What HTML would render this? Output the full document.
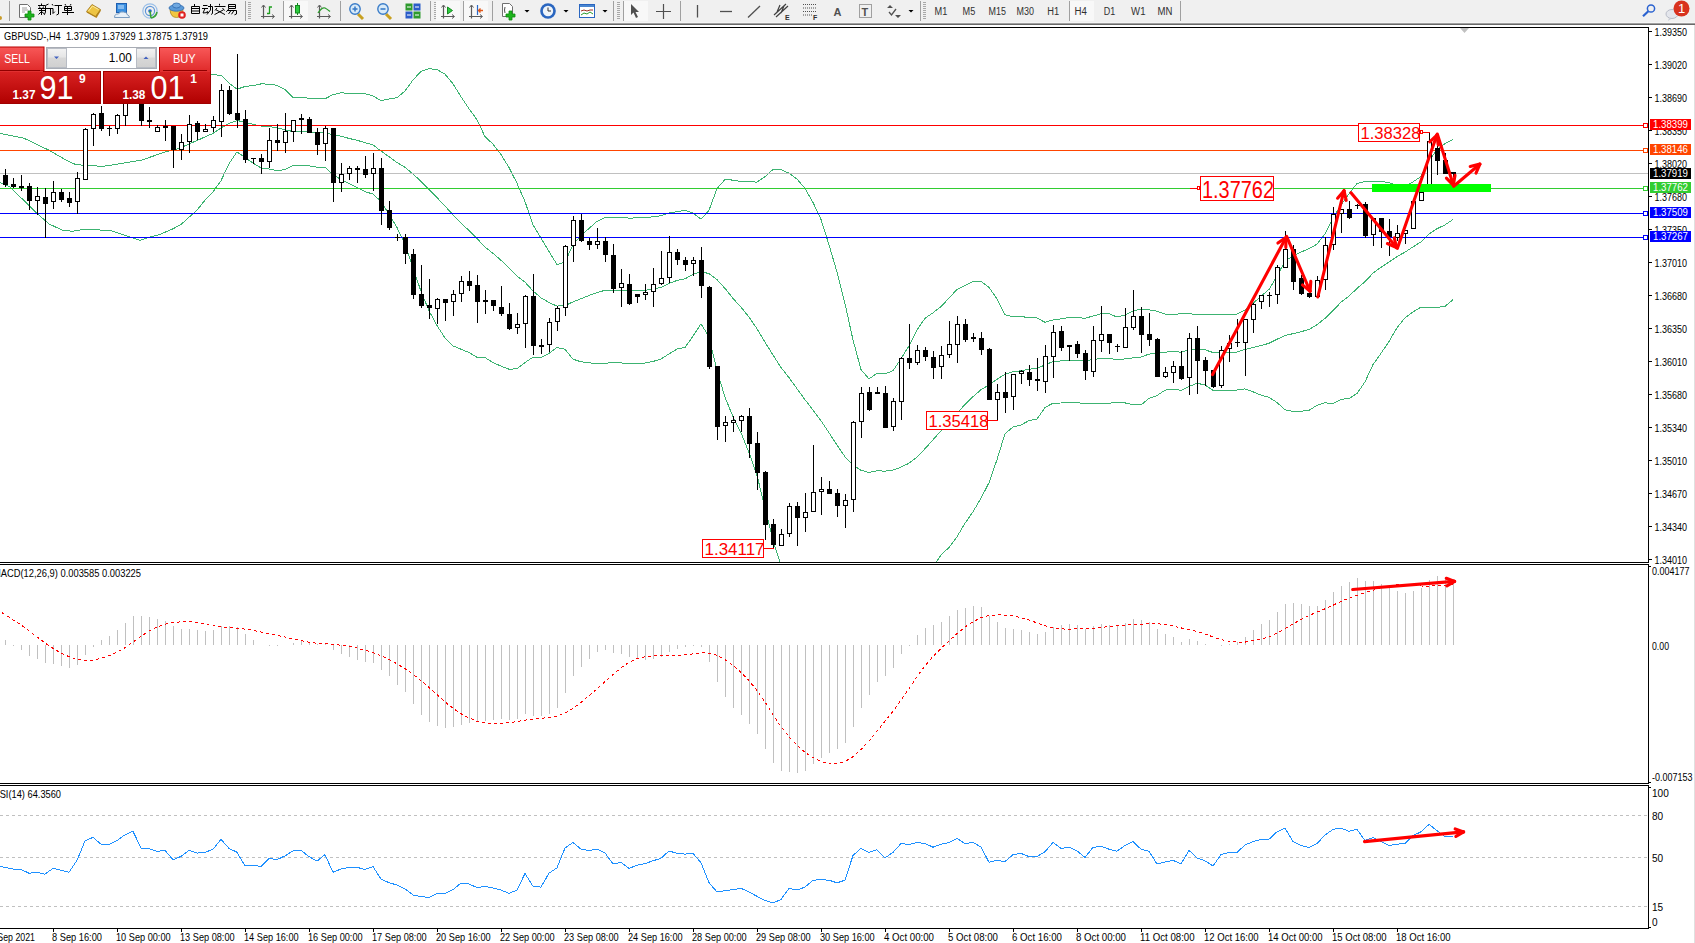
<!DOCTYPE html><html><head><meta charset="utf-8"><style>html,body{margin:0;padding:0;background:#fff;width:1695px;height:943px;overflow:hidden}svg text{font-family:"Liberation Sans",sans-serif}</style></head><body><svg width="1695" height="943" viewBox="0 0 1695 943" style="display:block"><defs><clipPath id="mainclip"><rect x="0" y="28" width="1648" height="534"/></clipPath><clipPath id="macdclip"><rect x="0" y="565" width="1648" height="218"/></clipPath></defs><rect x="0" y="0" width="1695" height="943" fill="#fff"/><rect x="0" y="0" width="1695" height="22" fill="#F0F0F0"/><rect x="0" y="22" width="1695" height="1" fill="#F6F6F6"/><rect x="0" y="23" width="1695" height="1" fill="#A0A0A0"/><rect x="0" y="24" width="1695" height="1" fill="#696969"/><rect x="0" y="25" width="1695" height="2" fill="#FFFFFF"/><circle cx="0" cy="18" r="2" fill="#C89B2A"/><rect x="9" y="1" width="1" height="20" fill="#A0A0A0"/><path d="M19.5 4.5h8l3 3v10h-11z" fill="#fff" stroke="#707070"/><path d="M22 8h5M22 10h6M22 12h3" stroke="#A0A0A0"/><path d="M28 11h3v3h3v3h-3v3h-3v-3h-3v-3h3z" fill="#1DB41D" stroke="#0D8A0D" stroke-width="0.8"/><path d="M41.5 3.5v1.5 M38 5.5h7 M39.5 6.5l0.5 1.5 M43.5 6.5l-0.5 1.5 M38 8.5h7 M39 10.5h6 M41.5 8.5v6.5 M41.5 11.5l-3 3 M41.5 11.5l3 2.5 M48.5 4l-3 1.5 M45.5 5.5v6.5l-1.2 2.8 M45.5 8.5h6.5 M50.5 8.5v6.5 M52 4l1 1.5 M51 8.5h2v5l1.8-1.8 M54.5 5.5h7.5 M58.5 5.5v8.5l-2 1 M65 4l0.8 1.5 M71 4l-0.8 1.5 M64.5 6.5h7v4h-7z M64.5 8.5h7 M67.5 6.5v8.5 M62 12.5h12" stroke="#000" stroke-width="1" fill="none"/><path d="M86.5 12.5 L92 5 L101 10.5 L96.5 18 Z" fill="#B8861A"/><path d="M86.5 11.5 L92 4.5 L100.5 9.5 L95.5 16.5 Z" fill="#EDC443" stroke="#A07418" stroke-width="0.8"/><path d="M88.5 11 L92.5 6 L98.5 9.5" fill="none" stroke="#FBEAA0"/><rect x="116.5" y="3.5" width="10" height="9" fill="#3A8FE0" stroke="#1F5FB0"/><path d="M118 6h6M118 8h6" stroke="#CFE6FF"/><path d="M114.5 17.5 q0-4 4-3.5 q1.5-3 5-2 q3.5 0 4 3 q2 0.5 2 2.5z" fill="#E8F0F8" stroke="#7A9CC0"/><circle cx="150" cy="11" r="7.2" fill="none" stroke="#9CC0E8" stroke-width="1.2"/><circle cx="150" cy="11" r="4.6" fill="none" stroke="#5E96D8" stroke-width="1.2"/><circle cx="150" cy="11" r="1.8" fill="#2A6AC8"/><path d="M150 11 L151 18 M157 12 q-1 5 -6 6" fill="none" stroke="#3AA33A" stroke-width="1.6"/><path d="M170 9.5 q0.5 8 6.5 8 q6 0 6.5 -8z" fill="#F2C640" stroke="#B08A1A" stroke-width="0.8"/><ellipse cx="176.5" cy="8" rx="7.5" ry="3.2" fill="#5A9AD8" stroke="#2F6AAE" stroke-width="0.8"/><ellipse cx="176.5" cy="5.5" rx="4" ry="2.5" fill="#6FA8E0" stroke="#2F6AAE" stroke-width="0.8"/><circle cx="182" cy="15" r="3.8" fill="#E02020"/><rect x="180.5" y="13.5" width="3" height="3" fill="#fff"/><path d="M194.5 4v2 M191.5 6.5h8v7h-8z M191.5 8.5h8 M191.5 11h8 M203 5.5h4.5 M202 8.5h6 M205 8.5l-2 4.5 4.5-0.5 M207 11l1 2 M208 6.5h4.5v7l-1.5 1 M210.5 4v6l-3.5 4.5 M219.5 3.8v1.7 M214.5 6.5h11 M217 8l-2 2.5 M222.5 8l2 2.5 M216 9.8l9 4.8 M223.5 9.8l-9 4.8 M228.5 4.5h7v4h-7z M228.5 6.5h7 M228.8 9l-2.5 2.8 M227 10.5h9.5v3.5l-2 0.8 M231 10.5l-2.5 3.5 M234 10.5l-2.5 3.8" stroke="#000" stroke-width="1" fill="none"/><rect x="245" y="1" width="1" height="20" fill="#A0A0A0"/><rect x="248" y="2" width="3" height="1" fill="#A8A8A8"/><rect x="248" y="4" width="3" height="1" fill="#A8A8A8"/><rect x="248" y="6" width="3" height="1" fill="#A8A8A8"/><rect x="248" y="8" width="3" height="1" fill="#A8A8A8"/><rect x="248" y="10" width="3" height="1" fill="#A8A8A8"/><rect x="248" y="12" width="3" height="1" fill="#A8A8A8"/><rect x="248" y="14" width="3" height="1" fill="#A8A8A8"/><rect x="248" y="16" width="3" height="1" fill="#A8A8A8"/><rect x="248" y="18" width="3" height="1" fill="#A8A8A8"/><path d="M263.5 5.5v13M261 16.5h13" stroke="#5A5A5A" stroke-width="1.2" fill="none"/><path d="M261.5 7.5l2-2.5 2 2.5M272 14.5l2.5 2-2.5 2" stroke="#5A5A5A" fill="none"/><path d="M269.5 14v-7h2.5M267 13.5h2.5" stroke="#1E9E1E" stroke-width="1.3" fill="none"/><rect x="283" y="1" width="1" height="20" fill="#A0A0A0"/><rect x="284" y="1" width="24" height="20" fill="#F8F8F8"/><path d="M291.5 5.5v13M289 16.5h13" stroke="#5A5A5A" stroke-width="1.2" fill="none"/><path d="M289.5 7.5l2-2.5 2 2.5M300 14.5l2.5 2-2.5 2" stroke="#5A5A5A" fill="none"/><rect x="295.5" y="5.5" width="4" height="7.5" fill="#2ECC40" stroke="#158A20"/><path d="M297.5 3v2.5M297.5 13v2" stroke="#158A20"/><path d="M319.5 5.5v13M317 16.5h13" stroke="#5A5A5A" stroke-width="1.2" fill="none"/><path d="M317.5 7.5l2-2.5 2 2.5M328 14.5l2.5 2-2.5 2" stroke="#5A5A5A" fill="none"/><path d="M318 13 q4 -6 7 -5 q2 1 5 3.5" stroke="#2A9A2A" stroke-width="1.3" fill="none"/><rect x="340" y="1" width="1" height="20" fill="#A0A0A0"/><path d="M358 14 l5 5" stroke="#C8A020" stroke-width="3"/><circle cx="355" cy="9" r="5.2" fill="#D8EAF8" stroke="#3A7CC8" stroke-width="1.4"/><path d="M352.5 9h5" stroke="#3A7CC8" stroke-width="1.6"/><path d="M355 6.5v5" stroke="#3A7CC8" stroke-width="1.6"/><path d="M386 14 l5 5" stroke="#C8A020" stroke-width="3"/><circle cx="383" cy="9" r="5.2" fill="#D8EAF8" stroke="#3A7CC8" stroke-width="1.4"/><path d="M380.5 9h5" stroke="#3A7CC8" stroke-width="1.6"/><rect x="405.5" y="3.5" width="7" height="7" fill="#2E9A2E"/><rect x="413.5" y="3.5" width="7" height="7" fill="#2A5CC8"/><rect x="405.5" y="11.5" width="7" height="7" fill="#2A5CC8"/><rect x="413.5" y="11.5" width="7" height="7" fill="#2E9A2E"/><path d="M407 7h4M415 7h4M407 15h4M415 15h4" stroke="#fff"/><rect x="430" y="1" width="1" height="20" fill="#A0A0A0"/><rect x="434" y="2" width="3" height="1" fill="#A8A8A8"/><rect x="434" y="4" width="3" height="1" fill="#A8A8A8"/><rect x="434" y="6" width="3" height="1" fill="#A8A8A8"/><rect x="434" y="8" width="3" height="1" fill="#A8A8A8"/><rect x="434" y="10" width="3" height="1" fill="#A8A8A8"/><rect x="434" y="12" width="3" height="1" fill="#A8A8A8"/><rect x="434" y="14" width="3" height="1" fill="#A8A8A8"/><rect x="434" y="16" width="3" height="1" fill="#A8A8A8"/><rect x="434" y="18" width="3" height="1" fill="#A8A8A8"/><rect x="436" y="1" width="24" height="20" fill="#F8F8F8"/><path d="M443.5 5.5v13M441 16.5h13" stroke="#5A5A5A" stroke-width="1.2" fill="none"/><path d="M441.5 7.5l2-2.5 2 2.5M452 14.5l2.5 2-2.5 2" stroke="#5A5A5A" fill="none"/><path d="M447.5 7l5 3.5-5 3.5z" fill="#2ECC40" stroke="#158A20"/><rect x="463" y="1" width="1" height="20" fill="#A0A0A0"/><rect x="464" y="1" width="24" height="20" fill="#F8F8F8"/><path d="M471.5 5.5v13M469 16.5h13" stroke="#5A5A5A" stroke-width="1.2" fill="none"/><path d="M469.5 7.5l2-2.5 2 2.5M480 14.5l2.5 2-2.5 2" stroke="#5A5A5A" fill="none"/><path d="M477.5 5v10" stroke="#2A6AC8" stroke-width="1.2"/><path d="M483 10.5h-4M480.5 8.5l-2 2 2 2" stroke="#E0581A" stroke-width="1.4" fill="none"/><rect x="492" y="1" width="1" height="20" fill="#A0A0A0"/><path d="M502.5 3.5h7l3 3v10h-10z" fill="#fff" stroke="#707070"/><path d="M505 7q-1 3 0 6" stroke="#505050" fill="none"/><path d="M509 11h3v3h3v3h-3v3h-3v-3h-3v-3h3z" fill="#1DB41D" stroke="#0D8A0D" stroke-width="0.8"/><path d="M524.5 10h5l-2.5 2.5z" fill="#000"/><circle cx="548" cy="11" r="7.8" fill="#2A66C0"/><circle cx="548" cy="11" r="5.2" fill="#EEF4FA"/><path d="M548 7.5v3.5h3" stroke="#333" fill="none"/><path d="M563.5 10h5l-2.5 2.5z" fill="#000"/><rect x="579.5" y="4.5" width="15" height="13" fill="#fff" stroke="#2A66C0"/><rect x="580" y="5" width="14" height="2" fill="#4A86D0"/><path d="M581 11l3-1 3 1 3-1 3 0" stroke="#A03020" fill="none"/><path d="M581 15l3-2 3 1 3-2 3 2" stroke="#2A9A2A" fill="none"/><path d="M602.5 10h5l-2.5 2.5z" fill="#000"/><rect x="613" y="1" width="1" height="20" fill="#A0A0A0"/><rect x="617" y="2" width="3" height="1" fill="#A8A8A8"/><rect x="617" y="4" width="3" height="1" fill="#A8A8A8"/><rect x="617" y="6" width="3" height="1" fill="#A8A8A8"/><rect x="617" y="8" width="3" height="1" fill="#A8A8A8"/><rect x="617" y="10" width="3" height="1" fill="#A8A8A8"/><rect x="617" y="12" width="3" height="1" fill="#A8A8A8"/><rect x="617" y="14" width="3" height="1" fill="#A8A8A8"/><rect x="617" y="16" width="3" height="1" fill="#A8A8A8"/><rect x="617" y="18" width="3" height="1" fill="#A8A8A8"/><rect x="623" y="1" width="1" height="20" fill="#A0A0A0"/><rect x="624" y="1" width="24" height="20" fill="#F8F8F8"/><path d="M631 4 L631 15 L633.5 12.5 L636 18 L638 17 L635.5 12 L639 12 Z" fill="#505050"/><path d="M663.5 4v15M656 11.5h15" stroke="#505050" stroke-width="1.2"/><rect x="680" y="1" width="1" height="20" fill="#A0A0A0"/><path d="M697.5 5v12.5" stroke="#505050" stroke-width="1.3"/><path d="M720 11.5h12" stroke="#505050" stroke-width="1.3"/><path d="M748 17.5L760 6" stroke="#505050" stroke-width="1.3"/><path d="M774 15 L786 4 M776 17 L788 6 M777 12 l3 -7 M781 13 l3 -7" stroke="#404040" stroke-width="1.2" fill="none"/><text x="785" y="20" font-size="7" fill="#303030" text-anchor="start" font-weight="bold" font-family='"Liberation Sans", sans-serif' >E</text><path d="M803 4.5h14M803 8h14M803 11.5h14M803 15h10" stroke="#505050" stroke-dasharray="1,1" fill="none"/><text x="813" y="20" font-size="7" fill="#303030" text-anchor="start" font-weight="bold" font-family='"Liberation Sans", sans-serif' >F</text><text x="833.5" y="16" font-size="11" fill="#505050" text-anchor="start" font-weight="bold" font-family='"Liberation Sans", sans-serif' >A</text><rect x="859.5" y="4.5" width="12" height="13" fill="none" stroke="#505050" stroke-dasharray="1,1"/><text x="861.5" y="15.5" font-size="11" fill="#505050" text-anchor="start" font-weight="bold" font-family='"Liberation Sans", sans-serif' >T</text><path d="M887 8l3-3 3 3z M895 15l3 3 3-3z" fill="#505050"/><path d="M889 12l2.5 3 4.5-6" stroke="#505050" stroke-width="1.3" fill="none"/><path d="M908.5 10h5l-2.5 2.5z" fill="#000"/><rect x="920" y="1" width="1" height="20" fill="#A0A0A0"/><rect x="923" y="2" width="3" height="1" fill="#A8A8A8"/><rect x="923" y="4" width="3" height="1" fill="#A8A8A8"/><rect x="923" y="6" width="3" height="1" fill="#A8A8A8"/><rect x="923" y="8" width="3" height="1" fill="#A8A8A8"/><rect x="923" y="10" width="3" height="1" fill="#A8A8A8"/><rect x="923" y="12" width="3" height="1" fill="#A8A8A8"/><rect x="923" y="14" width="3" height="1" fill="#A8A8A8"/><rect x="923" y="16" width="3" height="1" fill="#A8A8A8"/><rect x="923" y="18" width="3" height="1" fill="#A8A8A8"/><rect x="1070" y="1" width="24" height="20" fill="#F8F8F8"/><rect x="1069" y="1" width="1" height="20" fill="#A0A0A0"/><text x="934.5" y="15" font-size="10" fill="#303030" text-anchor="start" font-weight="normal" font-family='"Liberation Sans", sans-serif' textLength="12.8" lengthAdjust="spacingAndGlyphs" >M1</text><text x="962.6" y="15" font-size="10" fill="#303030" text-anchor="start" font-weight="normal" font-family='"Liberation Sans", sans-serif' textLength="12.7" lengthAdjust="spacingAndGlyphs" >M5</text><text x="988.5" y="15" font-size="10" fill="#303030" text-anchor="start" font-weight="normal" font-family='"Liberation Sans", sans-serif' textLength="17.4" lengthAdjust="spacingAndGlyphs" >M15</text><text x="1016.6" y="15" font-size="10" fill="#303030" text-anchor="start" font-weight="normal" font-family='"Liberation Sans", sans-serif' textLength="17.4" lengthAdjust="spacingAndGlyphs" >M30</text><text x="1047.2" y="15" font-size="10" fill="#303030" text-anchor="start" font-weight="normal" font-family='"Liberation Sans", sans-serif' textLength="11.9" lengthAdjust="spacingAndGlyphs" >H1</text><text x="1074.4" y="15" font-size="10" fill="#303030" text-anchor="start" font-weight="normal" font-family='"Liberation Sans", sans-serif' textLength="12.4" lengthAdjust="spacingAndGlyphs" >H4</text><text x="1103.7" y="15" font-size="10" fill="#303030" text-anchor="start" font-weight="normal" font-family='"Liberation Sans", sans-serif' textLength="11.5" lengthAdjust="spacingAndGlyphs" >D1</text><text x="1131.1" y="15" font-size="10" fill="#303030" text-anchor="start" font-weight="normal" font-family='"Liberation Sans", sans-serif' textLength="14.4" lengthAdjust="spacingAndGlyphs" >W1</text><text x="1157.5" y="15" font-size="10" fill="#303030" text-anchor="start" font-weight="normal" font-family='"Liberation Sans", sans-serif' textLength="14.9" lengthAdjust="spacingAndGlyphs" >MN</text><rect x="1180" y="1" width="1" height="20" fill="#A0A0A0"/><circle cx="1651" cy="8.5" r="3.6" fill="none" stroke="#2A62D0" stroke-width="1.5"/><path d="M1648.3 11.2 L1643 16.2" stroke="#2A62D0" stroke-width="2.2"/><ellipse cx="1672" cy="14" rx="6" ry="4.5" fill="#E4E6EC" stroke="#B8BCC8"/><path d="M1669 18 l-1 3 3-2z" fill="#C8CCD6"/><circle cx="1681.5" cy="8.5" r="8" fill="#D8321E"/><text x="1681.5" y="13" font-size="13" fill="#fff" text-anchor="middle" font-weight="normal" font-family='"Liberation Sans", sans-serif' >1</text><rect x="0" y="27" width="1649" height="1" fill="#000"/><rect x="0" y="562" width="1649" height="1" fill="#000"/><rect x="1648" y="27" width="1" height="536" fill="#000"/><rect x="0" y="564" width="1649" height="1" fill="#000"/><rect x="0" y="783" width="1649" height="1" fill="#000"/><rect x="1648" y="564" width="1" height="220" fill="#000"/><rect x="0" y="785" width="1649" height="1" fill="#000"/><rect x="0" y="928" width="1649" height="1" fill="#000"/><rect x="1648" y="785" width="1" height="144" fill="#000"/><rect x="1694" y="25" width="1" height="918" fill="#E0E0E0"/><rect x="1649" y="31" width="3" height="1" fill="#000"/><text x="1654.5" y="35.5" font-size="11" fill="#000" text-anchor="start" font-weight="normal" font-family='"Liberation Sans", sans-serif' textLength="32.5" lengthAdjust="spacingAndGlyphs" >1.39350</text><rect x="1649" y="64" width="3" height="1" fill="#000"/><text x="1654.5" y="68.5" font-size="11" fill="#000" text-anchor="start" font-weight="normal" font-family='"Liberation Sans", sans-serif' textLength="32.5" lengthAdjust="spacingAndGlyphs" >1.39020</text><rect x="1649" y="97" width="3" height="1" fill="#000"/><text x="1654.5" y="101.5" font-size="11" fill="#000" text-anchor="start" font-weight="normal" font-family='"Liberation Sans", sans-serif' textLength="32.5" lengthAdjust="spacingAndGlyphs" >1.38690</text><rect x="1649" y="130" width="3" height="1" fill="#000"/><text x="1654.5" y="134.5" font-size="11" fill="#000" text-anchor="start" font-weight="normal" font-family='"Liberation Sans", sans-serif' textLength="32.5" lengthAdjust="spacingAndGlyphs" >1.38350</text><rect x="1649" y="163" width="3" height="1" fill="#000"/><text x="1654.5" y="167.5" font-size="11" fill="#000" text-anchor="start" font-weight="normal" font-family='"Liberation Sans", sans-serif' textLength="32.5" lengthAdjust="spacingAndGlyphs" >1.38020</text><rect x="1649" y="196" width="3" height="1" fill="#000"/><text x="1654.5" y="200.5" font-size="11" fill="#000" text-anchor="start" font-weight="normal" font-family='"Liberation Sans", sans-serif' textLength="32.5" lengthAdjust="spacingAndGlyphs" >1.37680</text><rect x="1649" y="229" width="3" height="1" fill="#000"/><text x="1654.5" y="233.5" font-size="11" fill="#000" text-anchor="start" font-weight="normal" font-family='"Liberation Sans", sans-serif' textLength="32.5" lengthAdjust="spacingAndGlyphs" >1.37350</text><rect x="1649" y="262" width="3" height="1" fill="#000"/><text x="1654.5" y="266.5" font-size="11" fill="#000" text-anchor="start" font-weight="normal" font-family='"Liberation Sans", sans-serif' textLength="32.5" lengthAdjust="spacingAndGlyphs" >1.37010</text><rect x="1649" y="295" width="3" height="1" fill="#000"/><text x="1654.5" y="299.5" font-size="11" fill="#000" text-anchor="start" font-weight="normal" font-family='"Liberation Sans", sans-serif' textLength="32.5" lengthAdjust="spacingAndGlyphs" >1.36680</text><rect x="1649" y="328" width="3" height="1" fill="#000"/><text x="1654.5" y="332.5" font-size="11" fill="#000" text-anchor="start" font-weight="normal" font-family='"Liberation Sans", sans-serif' textLength="32.5" lengthAdjust="spacingAndGlyphs" >1.36350</text><rect x="1649" y="361" width="3" height="1" fill="#000"/><text x="1654.5" y="365.5" font-size="11" fill="#000" text-anchor="start" font-weight="normal" font-family='"Liberation Sans", sans-serif' textLength="32.5" lengthAdjust="spacingAndGlyphs" >1.36010</text><rect x="1649" y="394" width="3" height="1" fill="#000"/><text x="1654.5" y="398.5" font-size="11" fill="#000" text-anchor="start" font-weight="normal" font-family='"Liberation Sans", sans-serif' textLength="32.5" lengthAdjust="spacingAndGlyphs" >1.35680</text><rect x="1649" y="427" width="3" height="1" fill="#000"/><text x="1654.5" y="431.5" font-size="11" fill="#000" text-anchor="start" font-weight="normal" font-family='"Liberation Sans", sans-serif' textLength="32.5" lengthAdjust="spacingAndGlyphs" >1.35340</text><rect x="1649" y="460" width="3" height="1" fill="#000"/><text x="1654.5" y="464.5" font-size="11" fill="#000" text-anchor="start" font-weight="normal" font-family='"Liberation Sans", sans-serif' textLength="32.5" lengthAdjust="spacingAndGlyphs" >1.35010</text><rect x="1649" y="493" width="3" height="1" fill="#000"/><text x="1654.5" y="497.5" font-size="11" fill="#000" text-anchor="start" font-weight="normal" font-family='"Liberation Sans", sans-serif' textLength="32.5" lengthAdjust="spacingAndGlyphs" >1.34670</text><rect x="1649" y="526" width="3" height="1" fill="#000"/><text x="1654.5" y="530.5" font-size="11" fill="#000" text-anchor="start" font-weight="normal" font-family='"Liberation Sans", sans-serif' textLength="32.5" lengthAdjust="spacingAndGlyphs" >1.34340</text><rect x="1649" y="559" width="3" height="1" fill="#000"/><text x="1654.5" y="563.5" font-size="11" fill="#000" text-anchor="start" font-weight="normal" font-family='"Liberation Sans", sans-serif' textLength="32.5" lengthAdjust="spacingAndGlyphs" >1.34010</text><path d="M1460 28 L1469 28 L1464.5 33 Z" fill="#C0C0C0"/><text x="4" y="40" font-size="11" fill="#000" text-anchor="start" font-weight="normal" font-family='"Liberation Sans", sans-serif' textLength="204" lengthAdjust="spacingAndGlyphs" xml:space="preserve">GBPUSD-,H4  1.37909 1.37929 1.37875 1.37919</text><g clip-path="url(#mainclip)"><polyline points="157.0,74.1 165.0,71.6 173.0,71.4 181.0,71.0 189.0,70.5 197.0,71.2 205.0,73.6 213.0,74.9 221.0,75.1 229.0,83.2 237.0,89.2 245.0,86.5 253.0,85.6 261.0,83.9 269.0,84.1 277.0,85.3 285.0,89.6 293.0,97.6 301.0,97.3 309.0,98.2 317.0,98.7 325.0,98.8 333.0,94.6 341.0,92.8 349.0,93.3 357.0,93.3 365.0,93.6 373.0,95.9 381.0,100.7 389.0,99.1 397.0,97.6 405.0,91.0 413.0,80.0 421.0,71.4 429.0,68.7 437.0,69.6 445.0,74.2 453.0,83.8 461.0,96.8 469.0,108.8 477.0,119.7 485.0,136.7 493.0,144.1 501.0,154.6 509.0,167.5 517.0,183.3 525.0,201.6 533.0,224.8 541.0,238.3 549.0,251.5 557.0,264.6 565.0,262.0 573.0,244.6 581.0,235.6 589.0,228.4 597.0,221.4 605.0,217.5 613.0,217.2 621.0,217.4 629.0,218.1 637.0,217.9 645.0,217.6 653.0,216.8 661.0,215.8 669.0,213.1 677.0,211.7 685.0,210.2 693.0,212.9 701.0,219.2 709.0,210.4 717.0,188.5 725.0,179.6 733.0,180.1 741.0,181.5 749.0,181.7 757.0,182.1 765.0,176.7 773.0,169.5 781.0,169.6 789.0,173.2 797.0,179.0 805.0,188.5 813.0,202.4 821.0,219.4 829.0,244.8 837.0,272.2 845.0,303.8 853.0,339.9 861.0,369.5 869.0,379.0 877.0,373.1 885.0,374.0 893.0,370.7 901.0,358.7 909.0,345.8 917.0,329.9 925.0,318.3 933.0,312.8 941.0,306.6 949.0,298.1 957.0,289.5 965.0,285.7 973.0,281.7 981.0,281.3 989.0,287.4 997.0,298.9 1005.0,314.8 1013.0,316.6 1021.0,316.4 1029.0,317.8 1037.0,318.0 1045.0,322.3 1053.0,319.9 1061.0,318.9 1069.0,317.4 1077.0,317.7 1085.0,318.2 1093.0,316.1 1101.0,313.7 1109.0,313.5 1117.0,317.1 1125.0,314.9 1133.0,310.9 1141.0,309.2 1149.0,309.9 1157.0,311.2 1165.0,314.0 1173.0,314.4 1181.0,313.8 1189.0,313.5 1197.0,314.9 1205.0,314.5 1213.0,314.8 1221.0,314.9 1229.0,314.7 1237.0,314.0 1245.0,309.9 1253.0,303.4 1261.0,296.2 1269.0,289.4 1277.0,276.1 1285.0,261.1 1293.0,256.1 1301.0,252.1 1309.0,248.7 1317.0,244.1 1325.0,233.9 1333.0,217.9 1341.0,205.0 1349.0,193.9 1357.0,183.4 1365.0,181.4 1373.0,181.8 1381.0,181.4 1389.0,182.5 1397.0,185.5 1405.0,186.2 1413.0,181.9 1421.0,176.5 1429.0,160.2 1437.0,150.1 1445.0,143.5 1453.0,139.3" fill="none" stroke="#3CB371" stroke-width="1" shape-rendering="crispEdges"/><polyline points="0.0,133.4 23.9,138.2 47.7,149.6 66.8,160.4 76.3,164.9 89.0,165.2 101.8,166.5 120.9,163.6 141.5,160.1 157.0,154.8 165.0,151.9 173.0,150.1 181.0,147.7 189.0,143.9 197.0,140.6 205.0,136.9 213.0,133.4 221.0,127.9 229.0,123.5 237.0,120.5 245.0,122.1 253.0,124.3 261.0,126.0 269.0,126.5 277.0,127.9 285.0,129.7 293.0,131.6 301.0,131.5 309.0,132.0 317.0,132.9 325.0,132.9 333.0,134.6 341.0,136.2 349.0,138.4 357.0,140.3 365.0,142.6 373.0,145.0 381.0,151.0 389.0,156.7 397.0,162.6 405.0,167.3 413.0,174.1 421.0,181.3 429.0,189.7 437.0,197.6 445.0,206.1 453.0,214.8 461.0,223.0 469.0,230.6 477.0,238.5 485.0,247.1 493.0,253.3 501.0,260.3 509.0,268.3 517.0,276.0 525.0,282.1 533.0,291.0 541.0,297.8 549.0,302.5 557.0,306.1 565.0,305.6 573.0,301.9 581.0,298.7 589.0,295.5 597.0,292.6 605.0,290.3 613.0,290.0 621.0,290.1 629.0,291.0 637.0,290.8 645.0,290.3 653.0,289.1 661.0,287.4 669.0,283.5 677.0,280.4 685.0,278.8 693.0,274.5 701.0,271.5 709.0,273.7 717.0,279.6 725.0,288.4 733.0,298.4 741.0,307.2 749.0,317.1 757.0,328.7 765.0,342.2 773.0,355.0 781.0,367.5 789.0,377.6 797.0,388.7 805.0,399.7 813.0,410.2 821.0,420.7 829.0,432.8 837.0,445.1 845.0,456.8 853.0,464.9 861.0,470.3 869.0,472.5 877.0,470.8 885.0,471.1 893.0,470.1 901.0,467.2 909.0,463.2 917.0,457.1 925.0,448.7 933.0,439.8 941.0,430.8 949.0,422.8 957.0,413.1 965.0,404.5 973.0,396.7 981.0,389.7 989.0,385.0 997.0,379.3 1005.0,374.2 1013.0,371.8 1021.0,370.7 1029.0,369.2 1037.0,368.5 1045.0,364.9 1053.0,361.5 1061.0,360.9 1069.0,360.0 1077.0,360.2 1085.0,360.9 1093.0,359.5 1101.0,358.5 1109.0,358.4 1117.0,359.6 1125.0,358.9 1133.0,357.9 1141.0,357.1 1149.0,354.1 1157.0,353.4 1165.0,352.1 1173.0,351.7 1181.0,352.1 1189.0,350.1 1197.0,349.1 1205.0,349.8 1213.0,352.5 1221.0,352.6 1229.0,352.5 1237.0,352.0 1245.0,349.4 1253.0,347.6 1261.0,345.6 1269.0,343.3 1277.0,339.3 1285.0,335.4 1293.0,333.7 1301.0,331.7 1309.0,329.5 1317.0,324.7 1325.0,318.3 1333.0,310.7 1341.0,302.2 1349.0,296.2 1357.0,288.4 1365.0,281.7 1373.0,273.2 1381.0,267.3 1389.0,262.1 1397.0,256.6 1405.0,252.1 1413.0,246.9 1421.0,241.8 1429.0,234.0 1437.0,228.7 1445.0,224.9 1453.0,219.5" fill="none" stroke="#3CB371" stroke-width="1" shape-rendering="crispEdges"/><polyline points="0.0,182.4 9.5,186.7 28.6,205.0 38.2,214.5 49.3,224.1 63.6,230.7 73.2,231.2 85.9,229.1 111.3,230.7 130.4,237.1 140.0,240.3 151.1,236.5 157.0,235.5 165.0,232.2 173.0,228.8 181.0,224.5 189.0,217.3 197.0,210.1 205.0,200.2 213.0,191.8 221.0,180.7 229.0,163.7 237.0,151.9 245.0,157.6 253.0,163.1 261.0,168.0 269.0,169.0 277.0,170.6 285.0,169.7 293.0,165.6 301.0,165.6 309.0,165.9 317.0,167.1 325.0,167.1 333.0,174.6 341.0,179.6 349.0,183.6 357.0,187.3 365.0,191.6 373.0,194.1 381.0,201.4 389.0,214.3 397.0,227.6 405.0,243.7 413.0,268.3 421.0,291.3 429.0,310.8 437.0,325.5 445.0,338.0 453.0,345.9 461.0,349.2 469.0,352.5 477.0,357.3 485.0,357.6 493.0,362.5 501.0,366.1 509.0,369.2 517.0,368.8 525.0,362.6 533.0,357.2 541.0,357.4 549.0,353.5 557.0,347.5 565.0,349.3 573.0,359.2 581.0,361.8 589.0,362.7 597.0,363.8 605.0,363.1 613.0,362.8 621.0,362.8 629.0,364.0 637.0,363.6 645.0,363.0 653.0,361.5 661.0,358.9 669.0,354.0 677.0,349.0 685.0,347.4 693.0,336.2 701.0,323.7 709.0,337.0 717.0,370.8 725.0,397.2 733.0,416.7 741.0,432.8 749.0,452.6 757.0,475.4 765.0,507.7 773.0,540.5 781.0,565.5 789.0,582.1 797.0,598.4 805.0,610.9 813.0,618.0 821.0,622.0 829.0,620.7 837.0,617.9 845.0,609.8 853.0,590.0 861.0,571.1 869.0,565.9 877.0,568.5 885.0,568.2 893.0,569.6 901.0,575.8 909.0,580.6 917.0,584.2 925.0,579.0 933.0,566.8 941.0,555.1 949.0,547.4 957.0,536.7 965.0,523.3 973.0,511.8 981.0,498.2 989.0,482.7 997.0,459.7 1005.0,433.6 1013.0,427.0 1021.0,425.0 1029.0,420.6 1037.0,419.0 1045.0,407.6 1053.0,403.1 1061.0,403.0 1069.0,402.6 1077.0,402.7 1085.0,403.6 1093.0,403.0 1101.0,403.3 1109.0,403.4 1117.0,402.1 1125.0,402.9 1133.0,404.8 1141.0,405.0 1149.0,398.4 1157.0,395.6 1165.0,390.2 1173.0,389.1 1181.0,390.4 1189.0,386.6 1197.0,383.2 1205.0,385.0 1213.0,390.3 1221.0,390.3 1229.0,390.3 1237.0,390.0 1245.0,388.9 1253.0,391.8 1261.0,395.1 1269.0,397.3 1277.0,402.5 1285.0,409.8 1293.0,411.3 1301.0,411.2 1309.0,410.4 1317.0,405.2 1325.0,402.8 1333.0,403.5 1341.0,399.4 1349.0,398.5 1357.0,393.5 1365.0,381.9 1373.0,364.6 1381.0,353.3 1389.0,341.6 1397.0,327.7 1405.0,317.9 1413.0,312.0 1421.0,307.0 1429.0,307.8 1437.0,307.3 1445.0,306.4 1453.0,299.6" fill="none" stroke="#3CB371" stroke-width="1" shape-rendering="crispEdges"/></g><rect x="0" y="125" width="1643" height="1" fill="#FF0000"/><rect x="1643.5" y="123.5" width="4" height="4" fill="#fff" stroke="#FF0000"/><rect x="0" y="150" width="1643" height="1" fill="#FF4500"/><rect x="1643.5" y="148.5" width="4" height="4" fill="#fff" stroke="#FF4500"/><rect x="0" y="188" width="1643" height="1" fill="#32CD32"/><rect x="1643.5" y="186.5" width="4" height="4" fill="#fff" stroke="#32CD32"/><rect x="0" y="213" width="1643" height="1" fill="#0000FF"/><rect x="1643.5" y="211.5" width="4" height="4" fill="#fff" stroke="#0000FF"/><rect x="0" y="237" width="1643" height="1" fill="#0000FF"/><rect x="1643.5" y="235.5" width="4" height="4" fill="#fff" stroke="#0000FF"/><rect x="0" y="173" width="1648" height="1" fill="#C0C0C0"/><g fill="#000" shape-rendering="crispEdges"><rect x="5" y="169" width="1" height="6"/><rect x="5" y="185" width="1" height="2"/><rect x="3" y="175" width="5" height="10"/><rect x="13" y="178" width="1" height="6"/><rect x="13" y="187" width="1" height="1"/><rect x="11" y="184" width="5" height="3"/><rect x="21" y="175" width="1" height="11"/><rect x="21" y="188" width="1" height="3"/><rect x="19" y="186" width="5" height="2"/><rect x="29" y="183" width="1" height="3"/><rect x="29" y="201" width="1" height="9"/><rect x="27" y="186" width="5" height="15"/><rect x="37" y="187" width="1" height="9"/><rect x="37" y="201" width="1" height="14"/><rect x="35" y="196" width="5" height="5"/><rect x="36" y="197" width="3" height="3" fill="#fff"/><rect x="45" y="188" width="1" height="9"/><rect x="45" y="204" width="1" height="34"/><rect x="43" y="197" width="5" height="7"/><rect x="53" y="181" width="1" height="11"/><rect x="53" y="202" width="1" height="7"/><rect x="51" y="192" width="5" height="10"/><rect x="52" y="193" width="3" height="8" fill="#fff"/><rect x="61" y="189" width="1" height="3"/><rect x="61" y="200" width="1" height="2"/><rect x="59" y="192" width="5" height="8"/><rect x="69" y="192" width="1" height="6"/><rect x="69" y="203" width="1" height="4"/><rect x="67" y="198" width="5" height="5"/><rect x="77" y="172" width="1" height="6"/><rect x="77" y="202" width="1" height="12"/><rect x="75" y="178" width="5" height="24"/><rect x="76" y="179" width="3" height="22" fill="#fff"/><rect x="85" y="128" width="1" height="1"/><rect x="83" y="129" width="5" height="51"/><rect x="84" y="130" width="3" height="49" fill="#fff"/><rect x="93" y="113" width="1" height="1"/><rect x="93" y="129" width="1" height="17"/><rect x="91" y="114" width="5" height="15"/><rect x="92" y="115" width="3" height="13" fill="#fff"/><rect x="101" y="106" width="1" height="7"/><rect x="101" y="129" width="1" height="2"/><rect x="99" y="113" width="5" height="16"/><rect x="109" y="126" width="1" height="2"/><rect x="109" y="129" width="1" height="7"/><rect x="107" y="128" width="5" height="1"/><rect x="117" y="114" width="1" height="1"/><rect x="117" y="129" width="1" height="5"/><rect x="115" y="115" width="5" height="14"/><rect x="116" y="116" width="3" height="12" fill="#fff"/><rect x="125" y="92" width="1" height="4"/><rect x="125" y="116" width="1" height="10"/><rect x="123" y="96" width="5" height="20"/><rect x="124" y="97" width="3" height="18" fill="#fff"/><rect x="133" y="78" width="1" height="4"/><rect x="133" y="96" width="1" height="4"/><rect x="131" y="82" width="5" height="14"/><rect x="132" y="83" width="3" height="12" fill="#fff"/><rect x="141" y="80" width="1" height="2"/><rect x="141" y="121" width="1" height="5"/><rect x="139" y="82" width="5" height="39"/><rect x="149" y="107" width="1" height="13"/><rect x="149" y="122" width="1" height="6"/><rect x="147" y="120" width="5" height="2"/><rect x="157" y="125" width="1" height="2"/><rect x="155" y="127" width="5" height="5"/><rect x="156" y="128" width="3" height="3" fill="#fff"/><rect x="165" y="120" width="1" height="6"/><rect x="165" y="128" width="1" height="13"/><rect x="163" y="126" width="5" height="2"/><rect x="173" y="150" width="1" height="18"/><rect x="171" y="126" width="5" height="24"/><rect x="181" y="134" width="1" height="8"/><rect x="181" y="150" width="1" height="10"/><rect x="179" y="142" width="5" height="8"/><rect x="180" y="143" width="3" height="6" fill="#fff"/><rect x="189" y="115" width="1" height="9"/><rect x="189" y="142" width="1" height="11"/><rect x="187" y="124" width="5" height="18"/><rect x="188" y="125" width="3" height="16" fill="#fff"/><rect x="197" y="121" width="1" height="2"/><rect x="197" y="132" width="1" height="8"/><rect x="195" y="123" width="5" height="9"/><rect x="205" y="124" width="1" height="5"/><rect x="203" y="129" width="5" height="3"/><rect x="204" y="130" width="3" height="1" fill="#fff"/><rect x="213" y="116" width="1" height="4"/><rect x="213" y="128" width="1" height="4"/><rect x="211" y="120" width="5" height="8"/><rect x="212" y="121" width="3" height="6" fill="#fff"/><rect x="221" y="84" width="1" height="6"/><rect x="221" y="122" width="1" height="15"/><rect x="219" y="90" width="5" height="32"/><rect x="220" y="91" width="3" height="30" fill="#fff"/><rect x="229" y="86" width="1" height="4"/><rect x="229" y="114" width="1" height="1"/><rect x="227" y="90" width="5" height="24"/><rect x="237" y="54" width="1" height="59"/><rect x="237" y="120" width="1" height="8"/><rect x="235" y="113" width="5" height="7"/><rect x="245" y="110" width="1" height="9"/><rect x="245" y="160" width="1" height="3"/><rect x="243" y="119" width="5" height="41"/><rect x="253" y="159" width="1" height="5"/><rect x="251" y="158" width="5" height="1"/><rect x="261" y="154" width="1" height="4"/><rect x="261" y="162" width="1" height="12"/><rect x="259" y="158" width="5" height="4"/><rect x="269" y="128" width="1" height="12"/><rect x="269" y="162" width="1" height="6"/><rect x="267" y="140" width="5" height="22"/><rect x="268" y="141" width="3" height="20" fill="#fff"/><rect x="277" y="124" width="1" height="16"/><rect x="277" y="143" width="1" height="8"/><rect x="275" y="140" width="5" height="3"/><rect x="285" y="113" width="1" height="18"/><rect x="285" y="143" width="1" height="10"/><rect x="283" y="131" width="5" height="12"/><rect x="284" y="132" width="3" height="10" fill="#fff"/><rect x="293" y="132" width="1" height="10"/><rect x="291" y="120" width="5" height="12"/><rect x="292" y="121" width="3" height="10" fill="#fff"/><rect x="301" y="114" width="1" height="4"/><rect x="301" y="120" width="1" height="14"/><rect x="299" y="118" width="5" height="2"/><rect x="309" y="117" width="1" height="2"/><rect x="307" y="119" width="5" height="14"/><rect x="317" y="128" width="1" height="4"/><rect x="317" y="145" width="1" height="10"/><rect x="315" y="132" width="5" height="13"/><rect x="325" y="126" width="1" height="2"/><rect x="325" y="144" width="1" height="17"/><rect x="323" y="128" width="5" height="16"/><rect x="324" y="129" width="3" height="14" fill="#fff"/><rect x="333" y="183" width="1" height="19"/><rect x="331" y="128" width="5" height="55"/><rect x="341" y="163" width="1" height="11"/><rect x="341" y="183" width="1" height="9"/><rect x="339" y="174" width="5" height="9"/><rect x="340" y="175" width="3" height="7" fill="#fff"/><rect x="349" y="166" width="1" height="2"/><rect x="349" y="174" width="1" height="6"/><rect x="347" y="168" width="5" height="6"/><rect x="348" y="169" width="3" height="4" fill="#fff"/><rect x="357" y="166" width="1" height="2"/><rect x="357" y="170" width="1" height="13"/><rect x="355" y="168" width="5" height="2"/><rect x="365" y="156" width="1" height="13"/><rect x="365" y="175" width="1" height="3"/><rect x="363" y="169" width="5" height="6"/><rect x="373" y="153" width="1" height="15"/><rect x="373" y="174" width="1" height="17"/><rect x="371" y="168" width="5" height="6"/><rect x="372" y="169" width="3" height="4" fill="#fff"/><rect x="381" y="158" width="1" height="10"/><rect x="381" y="211" width="1" height="14"/><rect x="379" y="168" width="5" height="43"/><rect x="389" y="201" width="1" height="9"/><rect x="389" y="228" width="1" height="2"/><rect x="387" y="210" width="5" height="18"/><rect x="397" y="234" width="1" height="3"/><rect x="397" y="238" width="1" height="3"/><rect x="395" y="237" width="5" height="1"/><rect x="405" y="234" width="1" height="3"/><rect x="405" y="254" width="1" height="10"/><rect x="403" y="237" width="5" height="17"/><rect x="413" y="249" width="1" height="5"/><rect x="413" y="295" width="1" height="4"/><rect x="411" y="254" width="5" height="41"/><rect x="421" y="265" width="1" height="29"/><rect x="421" y="306" width="1" height="2"/><rect x="419" y="294" width="5" height="12"/><rect x="429" y="279" width="1" height="26"/><rect x="429" y="308" width="1" height="11"/><rect x="427" y="305" width="5" height="3"/><rect x="437" y="298" width="1" height="1"/><rect x="437" y="309" width="1" height="15"/><rect x="435" y="299" width="5" height="10"/><rect x="436" y="300" width="3" height="8" fill="#fff"/><rect x="445" y="303" width="1" height="18"/><rect x="443" y="299" width="5" height="4"/><rect x="453" y="290" width="1" height="4"/><rect x="453" y="302" width="1" height="14"/><rect x="451" y="294" width="5" height="8"/><rect x="452" y="295" width="3" height="6" fill="#fff"/><rect x="461" y="276" width="1" height="5"/><rect x="461" y="294" width="1" height="8"/><rect x="459" y="281" width="5" height="13"/><rect x="460" y="282" width="3" height="11" fill="#fff"/><rect x="469" y="271" width="1" height="10"/><rect x="469" y="286" width="1" height="5"/><rect x="467" y="281" width="5" height="5"/><rect x="477" y="275" width="1" height="10"/><rect x="477" y="302" width="1" height="21"/><rect x="475" y="285" width="5" height="17"/><rect x="485" y="290" width="1" height="10"/><rect x="485" y="302" width="1" height="12"/><rect x="483" y="300" width="5" height="2"/><rect x="493" y="306" width="1" height="5"/><rect x="491" y="300" width="5" height="6"/><rect x="501" y="286" width="1" height="21"/><rect x="501" y="314" width="1" height="2"/><rect x="499" y="307" width="5" height="7"/><rect x="509" y="303" width="1" height="11"/><rect x="509" y="329" width="1" height="1"/><rect x="507" y="314" width="5" height="15"/><rect x="517" y="313" width="1" height="11"/><rect x="517" y="328" width="1" height="6"/><rect x="515" y="324" width="5" height="4"/><rect x="516" y="325" width="3" height="2" fill="#fff"/><rect x="525" y="295" width="1" height="1"/><rect x="525" y="324" width="1" height="24"/><rect x="523" y="296" width="5" height="28"/><rect x="524" y="297" width="3" height="26" fill="#fff"/><rect x="533" y="274" width="1" height="22"/><rect x="533" y="346" width="1" height="9"/><rect x="531" y="296" width="5" height="50"/><rect x="541" y="339" width="1" height="6"/><rect x="541" y="347" width="1" height="7"/><rect x="539" y="345" width="5" height="2"/><rect x="549" y="318" width="1" height="4"/><rect x="549" y="345" width="1" height="7"/><rect x="547" y="322" width="5" height="23"/><rect x="548" y="323" width="3" height="21" fill="#fff"/><rect x="557" y="306" width="1" height="2"/><rect x="557" y="322" width="1" height="9"/><rect x="555" y="308" width="5" height="14"/><rect x="556" y="309" width="3" height="12" fill="#fff"/><rect x="565" y="245" width="1" height="1"/><rect x="565" y="308" width="1" height="8"/><rect x="563" y="246" width="5" height="62"/><rect x="564" y="247" width="3" height="60" fill="#fff"/><rect x="573" y="216" width="1" height="4"/><rect x="573" y="246" width="1" height="16"/><rect x="571" y="220" width="5" height="26"/><rect x="572" y="221" width="3" height="24" fill="#fff"/><rect x="581" y="214" width="1" height="6"/><rect x="581" y="241" width="1" height="1"/><rect x="579" y="220" width="5" height="21"/><rect x="589" y="238" width="1" height="3"/><rect x="589" y="245" width="1" height="5"/><rect x="587" y="241" width="5" height="4"/><rect x="597" y="228" width="1" height="13"/><rect x="597" y="245" width="1" height="4"/><rect x="595" y="241" width="5" height="4"/><rect x="596" y="242" width="3" height="2" fill="#fff"/><rect x="605" y="237" width="1" height="4"/><rect x="605" y="255" width="1" height="7"/><rect x="603" y="241" width="5" height="14"/><rect x="613" y="244" width="1" height="11"/><rect x="613" y="289" width="1" height="4"/><rect x="611" y="255" width="5" height="34"/><rect x="621" y="269" width="1" height="14"/><rect x="621" y="288" width="1" height="19"/><rect x="619" y="283" width="5" height="5"/><rect x="620" y="284" width="3" height="3" fill="#fff"/><rect x="629" y="274" width="1" height="10"/><rect x="629" y="304" width="1" height="1"/><rect x="627" y="284" width="5" height="20"/><rect x="637" y="297" width="1" height="6"/><rect x="635" y="294" width="5" height="3"/><rect x="645" y="284" width="1" height="8"/><rect x="645" y="295" width="1" height="5"/><rect x="643" y="292" width="5" height="3"/><rect x="644" y="293" width="3" height="1" fill="#fff"/><rect x="653" y="268" width="1" height="16"/><rect x="653" y="292" width="1" height="15"/><rect x="651" y="284" width="5" height="8"/><rect x="652" y="285" width="3" height="6" fill="#fff"/><rect x="661" y="251" width="1" height="27"/><rect x="661" y="284" width="1" height="1"/><rect x="659" y="278" width="5" height="6"/><rect x="660" y="279" width="3" height="4" fill="#fff"/><rect x="669" y="236" width="1" height="16"/><rect x="669" y="278" width="1" height="5"/><rect x="667" y="252" width="5" height="26"/><rect x="668" y="253" width="3" height="24" fill="#fff"/><rect x="677" y="249" width="1" height="3"/><rect x="677" y="260" width="1" height="5"/><rect x="675" y="252" width="5" height="8"/><rect x="685" y="257" width="1" height="3"/><rect x="685" y="265" width="1" height="6"/><rect x="683" y="260" width="5" height="5"/><rect x="693" y="257" width="1" height="3"/><rect x="693" y="264" width="1" height="12"/><rect x="691" y="260" width="5" height="4"/><rect x="692" y="261" width="3" height="2" fill="#fff"/><rect x="701" y="247" width="1" height="13"/><rect x="701" y="286" width="1" height="12"/><rect x="699" y="260" width="5" height="26"/><rect x="709" y="286" width="1" height="1"/><rect x="709" y="367" width="1" height="2"/><rect x="707" y="287" width="5" height="80"/><rect x="717" y="427" width="1" height="13"/><rect x="715" y="366" width="5" height="61"/><rect x="725" y="416" width="1" height="6"/><rect x="725" y="426" width="1" height="16"/><rect x="723" y="422" width="5" height="4"/><rect x="724" y="423" width="3" height="2" fill="#fff"/><rect x="733" y="416" width="1" height="4"/><rect x="733" y="423" width="1" height="9"/><rect x="731" y="420" width="5" height="3"/><rect x="732" y="421" width="3" height="1" fill="#fff"/><rect x="741" y="415" width="1" height="1"/><rect x="741" y="421" width="1" height="11"/><rect x="739" y="416" width="5" height="5"/><rect x="740" y="417" width="3" height="3" fill="#fff"/><rect x="749" y="408" width="1" height="8"/><rect x="749" y="444" width="1" height="14"/><rect x="747" y="416" width="5" height="28"/><rect x="757" y="432" width="1" height="11"/><rect x="757" y="473" width="1" height="17"/><rect x="755" y="443" width="5" height="30"/><rect x="765" y="471" width="1" height="1"/><rect x="765" y="525" width="1" height="15"/><rect x="763" y="472" width="5" height="53"/><rect x="773" y="519" width="1" height="5"/><rect x="773" y="545" width="1" height="4"/><rect x="771" y="524" width="5" height="21"/><rect x="781" y="529" width="1" height="5"/><rect x="779" y="534" width="5" height="12"/><rect x="780" y="535" width="3" height="10" fill="#fff"/><rect x="789" y="503" width="1" height="3"/><rect x="789" y="534" width="1" height="3"/><rect x="787" y="506" width="5" height="28"/><rect x="788" y="507" width="3" height="26" fill="#fff"/><rect x="797" y="502" width="1" height="4"/><rect x="797" y="518" width="1" height="28"/><rect x="795" y="506" width="5" height="12"/><rect x="805" y="493" width="1" height="19"/><rect x="805" y="518" width="1" height="14"/><rect x="803" y="512" width="5" height="6"/><rect x="804" y="513" width="3" height="4" fill="#fff"/><rect x="813" y="445" width="1" height="47"/><rect x="811" y="492" width="5" height="20"/><rect x="812" y="493" width="3" height="18" fill="#fff"/><rect x="821" y="477" width="1" height="12"/><rect x="821" y="492" width="1" height="23"/><rect x="819" y="489" width="5" height="3"/><rect x="820" y="490" width="3" height="1" fill="#fff"/><rect x="829" y="481" width="1" height="8"/><rect x="827" y="489" width="5" height="5"/><rect x="837" y="489" width="1" height="4"/><rect x="837" y="506" width="1" height="11"/><rect x="835" y="493" width="5" height="13"/><rect x="845" y="494" width="1" height="6"/><rect x="845" y="506" width="1" height="22"/><rect x="843" y="500" width="5" height="6"/><rect x="844" y="501" width="3" height="4" fill="#fff"/><rect x="853" y="421" width="1" height="1"/><rect x="853" y="500" width="1" height="12"/><rect x="851" y="422" width="5" height="78"/><rect x="852" y="423" width="3" height="76" fill="#fff"/><rect x="861" y="387" width="1" height="6"/><rect x="861" y="422" width="1" height="16"/><rect x="859" y="393" width="5" height="29"/><rect x="860" y="394" width="3" height="27" fill="#fff"/><rect x="869" y="387" width="1" height="5"/><rect x="869" y="410" width="1" height="1"/><rect x="867" y="392" width="5" height="18"/><rect x="877" y="387" width="1" height="5"/><rect x="875" y="392" width="5" height="2"/><rect x="885" y="386" width="1" height="7"/><rect x="883" y="393" width="5" height="35"/><rect x="893" y="398" width="1" height="3"/><rect x="893" y="427" width="1" height="4"/><rect x="891" y="401" width="5" height="26"/><rect x="892" y="402" width="3" height="24" fill="#fff"/><rect x="901" y="357" width="1" height="1"/><rect x="901" y="402" width="1" height="18"/><rect x="899" y="358" width="5" height="44"/><rect x="900" y="359" width="3" height="42" fill="#fff"/><rect x="909" y="324" width="1" height="34"/><rect x="909" y="363" width="1" height="6"/><rect x="907" y="358" width="5" height="5"/><rect x="917" y="345" width="1" height="5"/><rect x="917" y="363" width="1" height="2"/><rect x="915" y="350" width="5" height="13"/><rect x="916" y="351" width="3" height="11" fill="#fff"/><rect x="925" y="347" width="1" height="3"/><rect x="925" y="357" width="1" height="4"/><rect x="923" y="350" width="5" height="7"/><rect x="933" y="351" width="1" height="6"/><rect x="933" y="368" width="1" height="11"/><rect x="931" y="357" width="5" height="11"/><rect x="941" y="346" width="1" height="9"/><rect x="941" y="367" width="1" height="12"/><rect x="939" y="355" width="5" height="12"/><rect x="940" y="356" width="3" height="10" fill="#fff"/><rect x="949" y="321" width="1" height="23"/><rect x="949" y="355" width="1" height="3"/><rect x="947" y="344" width="5" height="11"/><rect x="948" y="345" width="3" height="9" fill="#fff"/><rect x="957" y="316" width="1" height="8"/><rect x="957" y="345" width="1" height="18"/><rect x="955" y="324" width="5" height="21"/><rect x="956" y="325" width="3" height="19" fill="#fff"/><rect x="965" y="319" width="1" height="5"/><rect x="965" y="340" width="1" height="2"/><rect x="963" y="324" width="5" height="16"/><rect x="973" y="333" width="1" height="4"/><rect x="973" y="339" width="1" height="3"/><rect x="971" y="337" width="5" height="2"/><rect x="981" y="332" width="1" height="6"/><rect x="981" y="350" width="1" height="5"/><rect x="979" y="338" width="5" height="12"/><rect x="989" y="348" width="1" height="1"/><rect x="987" y="349" width="5" height="51"/><rect x="997" y="384" width="1" height="8"/><rect x="997" y="400" width="1" height="20"/><rect x="995" y="392" width="5" height="8"/><rect x="996" y="393" width="3" height="6" fill="#fff"/><rect x="1005" y="372" width="1" height="20"/><rect x="1005" y="398" width="1" height="15"/><rect x="1003" y="392" width="5" height="6"/><rect x="1013" y="397" width="1" height="13"/><rect x="1011" y="374" width="5" height="23"/><rect x="1012" y="375" width="3" height="21" fill="#fff"/><rect x="1021" y="370" width="1" height="1"/><rect x="1021" y="374" width="1" height="10"/><rect x="1019" y="371" width="5" height="3"/><rect x="1020" y="372" width="3" height="1" fill="#fff"/><rect x="1029" y="365" width="1" height="7"/><rect x="1029" y="380" width="1" height="6"/><rect x="1027" y="372" width="5" height="8"/><rect x="1037" y="358" width="1" height="21"/><rect x="1037" y="381" width="1" height="10"/><rect x="1035" y="379" width="5" height="2"/><rect x="1045" y="345" width="1" height="11"/><rect x="1045" y="382" width="1" height="11"/><rect x="1043" y="356" width="5" height="26"/><rect x="1044" y="357" width="3" height="24" fill="#fff"/><rect x="1053" y="325" width="1" height="7"/><rect x="1053" y="357" width="1" height="21"/><rect x="1051" y="332" width="5" height="25"/><rect x="1052" y="333" width="3" height="23" fill="#fff"/><rect x="1061" y="326" width="1" height="5"/><rect x="1061" y="348" width="1" height="3"/><rect x="1059" y="331" width="5" height="17"/><rect x="1069" y="347" width="1" height="14"/><rect x="1067" y="345" width="5" height="2"/><rect x="1077" y="341" width="1" height="3"/><rect x="1077" y="354" width="1" height="4"/><rect x="1075" y="344" width="5" height="10"/><rect x="1085" y="350" width="1" height="3"/><rect x="1085" y="371" width="1" height="9"/><rect x="1083" y="353" width="5" height="18"/><rect x="1093" y="326" width="1" height="14"/><rect x="1093" y="372" width="1" height="5"/><rect x="1091" y="340" width="5" height="32"/><rect x="1092" y="341" width="3" height="30" fill="#fff"/><rect x="1101" y="306" width="1" height="28"/><rect x="1101" y="341" width="1" height="11"/><rect x="1099" y="334" width="5" height="7"/><rect x="1100" y="335" width="3" height="5" fill="#fff"/><rect x="1109" y="343" width="1" height="11"/><rect x="1107" y="334" width="5" height="9"/><rect x="1117" y="344" width="1" height="2"/><rect x="1117" y="347" width="1" height="5"/><rect x="1115" y="346" width="5" height="1"/><rect x="1125" y="308" width="1" height="19"/><rect x="1123" y="327" width="5" height="21"/><rect x="1124" y="328" width="3" height="19" fill="#fff"/><rect x="1133" y="290" width="1" height="26"/><rect x="1133" y="328" width="1" height="2"/><rect x="1131" y="316" width="5" height="12"/><rect x="1132" y="317" width="3" height="10" fill="#fff"/><rect x="1141" y="307" width="1" height="9"/><rect x="1141" y="335" width="1" height="18"/><rect x="1139" y="316" width="5" height="19"/><rect x="1149" y="313" width="1" height="21"/><rect x="1149" y="340" width="1" height="6"/><rect x="1147" y="334" width="5" height="6"/><rect x="1157" y="338" width="1" height="1"/><rect x="1155" y="339" width="5" height="38"/><rect x="1165" y="367" width="1" height="5"/><rect x="1165" y="377" width="1" height="1"/><rect x="1163" y="372" width="5" height="5"/><rect x="1164" y="373" width="3" height="3" fill="#fff"/><rect x="1173" y="361" width="1" height="5"/><rect x="1173" y="373" width="1" height="10"/><rect x="1171" y="366" width="5" height="7"/><rect x="1172" y="367" width="3" height="5" fill="#fff"/><rect x="1181" y="351" width="1" height="15"/><rect x="1181" y="379" width="1" height="1"/><rect x="1179" y="366" width="5" height="13"/><rect x="1189" y="333" width="1" height="5"/><rect x="1189" y="378" width="1" height="17"/><rect x="1187" y="338" width="5" height="40"/><rect x="1188" y="339" width="3" height="38" fill="#fff"/><rect x="1197" y="326" width="1" height="12"/><rect x="1197" y="361" width="1" height="33"/><rect x="1195" y="338" width="5" height="23"/><rect x="1205" y="357" width="1" height="3"/><rect x="1205" y="371" width="1" height="15"/><rect x="1203" y="360" width="5" height="11"/><rect x="1213" y="387" width="1" height="1"/><rect x="1211" y="370" width="5" height="17"/><rect x="1221" y="346" width="1" height="4"/><rect x="1221" y="386" width="1" height="2"/><rect x="1219" y="350" width="5" height="36"/><rect x="1220" y="351" width="3" height="34" fill="#fff"/><rect x="1229" y="335" width="1" height="8"/><rect x="1229" y="349" width="1" height="13"/><rect x="1227" y="343" width="5" height="6"/><rect x="1228" y="344" width="3" height="4" fill="#fff"/><rect x="1237" y="319" width="1" height="23"/><rect x="1237" y="343" width="1" height="4"/><rect x="1235" y="342" width="5" height="1"/><rect x="1245" y="343" width="1" height="33"/><rect x="1243" y="319" width="5" height="24"/><rect x="1244" y="320" width="3" height="22" fill="#fff"/><rect x="1253" y="303" width="1" height="1"/><rect x="1253" y="320" width="1" height="13"/><rect x="1251" y="304" width="5" height="16"/><rect x="1252" y="305" width="3" height="14" fill="#fff"/><rect x="1261" y="302" width="1" height="7"/><rect x="1259" y="295" width="5" height="7"/><rect x="1260" y="296" width="3" height="5" fill="#fff"/><rect x="1269" y="292" width="1" height="3"/><rect x="1269" y="296" width="1" height="11"/><rect x="1267" y="295" width="5" height="1"/><rect x="1277" y="265" width="1" height="2"/><rect x="1277" y="295" width="1" height="9"/><rect x="1275" y="267" width="5" height="28"/><rect x="1276" y="268" width="3" height="26" fill="#fff"/><rect x="1285" y="231" width="1" height="18"/><rect x="1283" y="249" width="5" height="19"/><rect x="1284" y="250" width="3" height="17" fill="#fff"/><rect x="1293" y="245" width="1" height="4"/><rect x="1293" y="282" width="1" height="8"/><rect x="1291" y="249" width="5" height="33"/><rect x="1301" y="275" width="1" height="3"/><rect x="1301" y="294" width="1" height="1"/><rect x="1299" y="278" width="5" height="16"/><rect x="1309" y="297" width="1" height="1"/><rect x="1307" y="293" width="5" height="4"/><rect x="1317" y="276" width="1" height="4"/><rect x="1315" y="280" width="5" height="17"/><rect x="1316" y="281" width="3" height="15" fill="#fff"/><rect x="1325" y="237" width="1" height="8"/><rect x="1325" y="280" width="1" height="10"/><rect x="1323" y="245" width="5" height="35"/><rect x="1324" y="246" width="3" height="33" fill="#fff"/><rect x="1333" y="207" width="1" height="7"/><rect x="1333" y="245" width="1" height="5"/><rect x="1331" y="214" width="5" height="31"/><rect x="1332" y="215" width="3" height="29" fill="#fff"/><rect x="1341" y="214" width="1" height="19"/><rect x="1339" y="209" width="5" height="5"/><rect x="1340" y="210" width="3" height="3" fill="#fff"/><rect x="1349" y="201" width="1" height="8"/><rect x="1349" y="218" width="1" height="1"/><rect x="1347" y="209" width="5" height="9"/><rect x="1357" y="204" width="1" height="1"/><rect x="1357" y="206" width="1" height="3"/><rect x="1355" y="205" width="5" height="1"/><rect x="1365" y="202" width="1" height="2"/><rect x="1365" y="236" width="1" height="2"/><rect x="1363" y="204" width="5" height="32"/><rect x="1373" y="235" width="1" height="11"/><rect x="1371" y="218" width="5" height="17"/><rect x="1372" y="219" width="3" height="15" fill="#fff"/><rect x="1381" y="232" width="1" height="16"/><rect x="1379" y="218" width="5" height="14"/><rect x="1389" y="219" width="1" height="12"/><rect x="1389" y="237" width="1" height="19"/><rect x="1387" y="231" width="5" height="6"/><rect x="1397" y="225" width="1" height="8"/><rect x="1397" y="238" width="1" height="3"/><rect x="1395" y="233" width="5" height="5"/><rect x="1396" y="234" width="3" height="3" fill="#fff"/><rect x="1405" y="234" width="1" height="10"/><rect x="1403" y="230" width="5" height="4"/><rect x="1404" y="231" width="3" height="2" fill="#fff"/><rect x="1413" y="200" width="1" height="1"/><rect x="1411" y="201" width="5" height="28"/><rect x="1412" y="202" width="3" height="26" fill="#fff"/><rect x="1421" y="184" width="1" height="8"/><rect x="1419" y="192" width="5" height="9"/><rect x="1420" y="193" width="3" height="7" fill="#fff"/><rect x="1429" y="132" width="1" height="9"/><rect x="1427" y="141" width="5" height="51"/><rect x="1428" y="142" width="3" height="49" fill="#fff"/><rect x="1437" y="143" width="1" height="5"/><rect x="1437" y="161" width="1" height="14"/><rect x="1435" y="148" width="5" height="13"/><rect x="1445" y="153" width="1" height="7"/><rect x="1443" y="160" width="5" height="14"/><rect x="1453" y="174" width="1" height="3"/><rect x="1451" y="172" width="5" height="2"/></g><rect x="1650" y="119" width="41" height="11" fill="#FF0000"/><text x="1653" y="128" font-size="11" fill="#fff" text-anchor="start" font-weight="normal" font-family='"Liberation Sans", sans-serif' textLength="35" lengthAdjust="spacingAndGlyphs" >1.38399</text><rect x="1650" y="144" width="41" height="11" fill="#FF4500"/><text x="1653" y="153" font-size="11" fill="#fff" text-anchor="start" font-weight="normal" font-family='"Liberation Sans", sans-serif' textLength="35" lengthAdjust="spacingAndGlyphs" >1.38146</text><rect x="1650" y="168" width="41" height="11" fill="#000000"/><text x="1653" y="177" font-size="11" fill="#fff" text-anchor="start" font-weight="normal" font-family='"Liberation Sans", sans-serif' textLength="35" lengthAdjust="spacingAndGlyphs" >1.37919</text><rect x="1650" y="182" width="41" height="11" fill="#32CD32"/><text x="1653" y="191" font-size="11" fill="#fff" text-anchor="start" font-weight="normal" font-family='"Liberation Sans", sans-serif' textLength="35" lengthAdjust="spacingAndGlyphs" >1.37762</text><rect x="1650" y="207" width="41" height="11" fill="#0000FF"/><text x="1653" y="216" font-size="11" fill="#fff" text-anchor="start" font-weight="normal" font-family='"Liberation Sans", sans-serif' textLength="35" lengthAdjust="spacingAndGlyphs" >1.37509</text><rect x="1650" y="231" width="41" height="11" fill="#0000FF"/><text x="1653" y="240" font-size="11" fill="#fff" text-anchor="start" font-weight="normal" font-family='"Liberation Sans", sans-serif' textLength="35" lengthAdjust="spacingAndGlyphs" >1.37267</text><g shape-rendering="crispEdges"><rect x="5" y="640" width="1" height="5" fill="#C0C0C0"/><rect x="13" y="645" width="1" height="1" fill="#C0C0C0"/><rect x="21" y="645" width="1" height="5" fill="#C0C0C0"/><rect x="29" y="645" width="1" height="11" fill="#C0C0C0"/><rect x="37" y="645" width="1" height="14" fill="#C0C0C0"/><rect x="45" y="645" width="1" height="18" fill="#C0C0C0"/><rect x="53" y="645" width="1" height="19" fill="#C0C0C0"/><rect x="61" y="645" width="1" height="21" fill="#C0C0C0"/><rect x="69" y="645" width="1" height="23" fill="#C0C0C0"/><rect x="77" y="645" width="1" height="20" fill="#C0C0C0"/><rect x="85" y="645" width="1" height="10" fill="#C0C0C0"/><rect x="93" y="645" width="1" height="2" fill="#C0C0C0"/><rect x="101" y="640" width="1" height="5" fill="#C0C0C0"/><rect x="109" y="636" width="1" height="9" fill="#C0C0C0"/><rect x="117" y="630" width="1" height="15" fill="#C0C0C0"/><rect x="125" y="623" width="1" height="22" fill="#C0C0C0"/><rect x="133" y="616" width="1" height="29" fill="#C0C0C0"/><rect x="141" y="616" width="1" height="29" fill="#C0C0C0"/><rect x="149" y="617" width="1" height="28" fill="#C0C0C0"/><rect x="157" y="619" width="1" height="26" fill="#C0C0C0"/><rect x="165" y="621" width="1" height="24" fill="#C0C0C0"/><rect x="173" y="626" width="1" height="19" fill="#C0C0C0"/><rect x="181" y="629" width="1" height="16" fill="#C0C0C0"/><rect x="189" y="629" width="1" height="16" fill="#C0C0C0"/><rect x="197" y="630" width="1" height="15" fill="#C0C0C0"/><rect x="205" y="631" width="1" height="14" fill="#C0C0C0"/><rect x="213" y="630" width="1" height="15" fill="#C0C0C0"/><rect x="221" y="626" width="1" height="19" fill="#C0C0C0"/><rect x="229" y="626" width="1" height="19" fill="#C0C0C0"/><rect x="237" y="627" width="1" height="18" fill="#C0C0C0"/><rect x="245" y="634" width="1" height="11" fill="#C0C0C0"/><rect x="253" y="640" width="1" height="5" fill="#C0C0C0"/><rect x="269" y="645" width="1" height="1" fill="#C0C0C0"/><rect x="277" y="645" width="1" height="1" fill="#C0C0C0"/><rect x="293" y="643" width="1" height="2" fill="#C0C0C0"/><rect x="301" y="641" width="1" height="4" fill="#C0C0C0"/><rect x="309" y="642" width="1" height="3" fill="#C0C0C0"/><rect x="317" y="644" width="1" height="1" fill="#C0C0C0"/><rect x="325" y="644" width="1" height="1" fill="#C0C0C0"/><rect x="333" y="645" width="1" height="5" fill="#C0C0C0"/><rect x="341" y="645" width="1" height="9" fill="#C0C0C0"/><rect x="349" y="645" width="1" height="12" fill="#C0C0C0"/><rect x="357" y="645" width="1" height="15" fill="#C0C0C0"/><rect x="365" y="645" width="1" height="17" fill="#C0C0C0"/><rect x="373" y="645" width="1" height="18" fill="#C0C0C0"/><rect x="381" y="645" width="1" height="25" fill="#C0C0C0"/><rect x="389" y="645" width="1" height="31" fill="#C0C0C0"/><rect x="397" y="645" width="1" height="40" fill="#C0C0C0"/><rect x="405" y="645" width="1" height="47" fill="#C0C0C0"/><rect x="413" y="645" width="1" height="59" fill="#C0C0C0"/><rect x="421" y="645" width="1" height="70" fill="#C0C0C0"/><rect x="429" y="645" width="1" height="77" fill="#C0C0C0"/><rect x="437" y="645" width="1" height="81" fill="#C0C0C0"/><rect x="445" y="645" width="1" height="83" fill="#C0C0C0"/><rect x="453" y="645" width="1" height="82" fill="#C0C0C0"/><rect x="461" y="645" width="1" height="80" fill="#C0C0C0"/><rect x="469" y="645" width="1" height="78" fill="#C0C0C0"/><rect x="477" y="645" width="1" height="77" fill="#C0C0C0"/><rect x="485" y="645" width="1" height="76" fill="#C0C0C0"/><rect x="493" y="645" width="1" height="75" fill="#C0C0C0"/><rect x="501" y="645" width="1" height="74" fill="#C0C0C0"/><rect x="509" y="645" width="1" height="75" fill="#C0C0C0"/><rect x="517" y="645" width="1" height="74" fill="#C0C0C0"/><rect x="525" y="645" width="1" height="69" fill="#C0C0C0"/><rect x="533" y="645" width="1" height="71" fill="#C0C0C0"/><rect x="541" y="645" width="1" height="71" fill="#C0C0C0"/><rect x="549" y="645" width="1" height="69" fill="#C0C0C0"/><rect x="557" y="645" width="1" height="63" fill="#C0C0C0"/><rect x="565" y="645" width="1" height="48" fill="#C0C0C0"/><rect x="573" y="645" width="1" height="31" fill="#C0C0C0"/><rect x="581" y="645" width="1" height="22" fill="#C0C0C0"/><rect x="589" y="645" width="1" height="14" fill="#C0C0C0"/><rect x="597" y="645" width="1" height="7" fill="#C0C0C0"/><rect x="605" y="645" width="1" height="5" fill="#C0C0C0"/><rect x="613" y="645" width="1" height="8" fill="#C0C0C0"/><rect x="621" y="645" width="1" height="9" fill="#C0C0C0"/><rect x="629" y="645" width="1" height="12" fill="#C0C0C0"/><rect x="637" y="645" width="1" height="14" fill="#C0C0C0"/><rect x="645" y="645" width="1" height="15" fill="#C0C0C0"/><rect x="653" y="645" width="1" height="14" fill="#C0C0C0"/><rect x="661" y="645" width="1" height="12" fill="#C0C0C0"/><rect x="669" y="645" width="1" height="7" fill="#C0C0C0"/><rect x="677" y="645" width="1" height="4" fill="#C0C0C0"/><rect x="685" y="645" width="1" height="2" fill="#C0C0C0"/><rect x="693" y="645" width="1" height="1" fill="#C0C0C0"/><rect x="701" y="645" width="1" height="2" fill="#C0C0C0"/><rect x="709" y="645" width="1" height="17" fill="#C0C0C0"/><rect x="717" y="645" width="1" height="37" fill="#C0C0C0"/><rect x="725" y="645" width="1" height="52" fill="#C0C0C0"/><rect x="733" y="645" width="1" height="63" fill="#C0C0C0"/><rect x="741" y="645" width="1" height="70" fill="#C0C0C0"/><rect x="749" y="645" width="1" height="79" fill="#C0C0C0"/><rect x="757" y="645" width="1" height="89" fill="#C0C0C0"/><rect x="765" y="645" width="1" height="104" fill="#C0C0C0"/><rect x="773" y="645" width="1" height="118" fill="#C0C0C0"/><rect x="781" y="645" width="1" height="126" fill="#C0C0C0"/><rect x="789" y="645" width="1" height="127" fill="#C0C0C0"/><rect x="797" y="645" width="1" height="128" fill="#C0C0C0"/><rect x="805" y="645" width="1" height="126" fill="#C0C0C0"/><rect x="813" y="645" width="1" height="119" fill="#C0C0C0"/><rect x="821" y="645" width="1" height="113" fill="#C0C0C0"/><rect x="829" y="645" width="1" height="108" fill="#C0C0C0"/><rect x="837" y="645" width="1" height="104" fill="#C0C0C0"/><rect x="845" y="645" width="1" height="98" fill="#C0C0C0"/><rect x="853" y="645" width="1" height="82" fill="#C0C0C0"/><rect x="861" y="645" width="1" height="63" fill="#C0C0C0"/><rect x="869" y="645" width="1" height="50" fill="#C0C0C0"/><rect x="877" y="645" width="1" height="37" fill="#C0C0C0"/><rect x="885" y="645" width="1" height="31" fill="#C0C0C0"/><rect x="893" y="645" width="1" height="23" fill="#C0C0C0"/><rect x="901" y="645" width="1" height="9" fill="#C0C0C0"/><rect x="909" y="645" width="1" height="1" fill="#C0C0C0"/><rect x="917" y="635" width="1" height="10" fill="#C0C0C0"/><rect x="925" y="628" width="1" height="17" fill="#C0C0C0"/><rect x="933" y="625" width="1" height="20" fill="#C0C0C0"/><rect x="941" y="622" width="1" height="23" fill="#C0C0C0"/><rect x="949" y="616" width="1" height="29" fill="#C0C0C0"/><rect x="957" y="610" width="1" height="35" fill="#C0C0C0"/><rect x="965" y="608" width="1" height="37" fill="#C0C0C0"/><rect x="973" y="606" width="1" height="39" fill="#C0C0C0"/><rect x="981" y="607" width="1" height="38" fill="#C0C0C0"/><rect x="989" y="616" width="1" height="29" fill="#C0C0C0"/><rect x="997" y="622" width="1" height="23" fill="#C0C0C0"/><rect x="1005" y="628" width="1" height="17" fill="#C0C0C0"/><rect x="1013" y="629" width="1" height="16" fill="#C0C0C0"/><rect x="1021" y="630" width="1" height="15" fill="#C0C0C0"/><rect x="1029" y="632" width="1" height="13" fill="#C0C0C0"/><rect x="1037" y="634" width="1" height="11" fill="#C0C0C0"/><rect x="1045" y="632" width="1" height="13" fill="#C0C0C0"/><rect x="1053" y="627" width="1" height="18" fill="#C0C0C0"/><rect x="1061" y="625" width="1" height="20" fill="#C0C0C0"/><rect x="1069" y="624" width="1" height="21" fill="#C0C0C0"/><rect x="1077" y="625" width="1" height="20" fill="#C0C0C0"/><rect x="1085" y="629" width="1" height="16" fill="#C0C0C0"/><rect x="1093" y="626" width="1" height="19" fill="#C0C0C0"/><rect x="1101" y="624" width="1" height="21" fill="#C0C0C0"/><rect x="1109" y="625" width="1" height="20" fill="#C0C0C0"/><rect x="1117" y="625" width="1" height="20" fill="#C0C0C0"/><rect x="1125" y="623" width="1" height="22" fill="#C0C0C0"/><rect x="1133" y="619" width="1" height="26" fill="#C0C0C0"/><rect x="1141" y="620" width="1" height="25" fill="#C0C0C0"/><rect x="1149" y="622" width="1" height="23" fill="#C0C0C0"/><rect x="1157" y="629" width="1" height="16" fill="#C0C0C0"/><rect x="1165" y="634" width="1" height="11" fill="#C0C0C0"/><rect x="1173" y="637" width="1" height="8" fill="#C0C0C0"/><rect x="1181" y="642" width="1" height="3" fill="#C0C0C0"/><rect x="1189" y="639" width="1" height="6" fill="#C0C0C0"/><rect x="1197" y="641" width="1" height="4" fill="#C0C0C0"/><rect x="1205" y="644" width="1" height="1" fill="#C0C0C0"/><rect x="1221" y="645" width="1" height="1" fill="#C0C0C0"/><rect x="1229" y="644" width="1" height="1" fill="#C0C0C0"/><rect x="1237" y="642" width="1" height="3" fill="#C0C0C0"/><rect x="1245" y="637" width="1" height="8" fill="#C0C0C0"/><rect x="1253" y="630" width="1" height="15" fill="#C0C0C0"/><rect x="1261" y="624" width="1" height="21" fill="#C0C0C0"/><rect x="1269" y="620" width="1" height="25" fill="#C0C0C0"/><rect x="1277" y="612" width="1" height="33" fill="#C0C0C0"/><rect x="1285" y="604" width="1" height="41" fill="#C0C0C0"/><rect x="1293" y="603" width="1" height="42" fill="#C0C0C0"/><rect x="1301" y="604" width="1" height="41" fill="#C0C0C0"/><rect x="1309" y="606" width="1" height="39" fill="#C0C0C0"/><rect x="1317" y="606" width="1" height="39" fill="#C0C0C0"/><rect x="1325" y="600" width="1" height="45" fill="#C0C0C0"/><rect x="1333" y="592" width="1" height="53" fill="#C0C0C0"/><rect x="1341" y="586" width="1" height="59" fill="#C0C0C0"/><rect x="1349" y="582" width="1" height="63" fill="#C0C0C0"/><rect x="1357" y="578" width="1" height="67" fill="#C0C0C0"/><rect x="1365" y="581" width="1" height="64" fill="#C0C0C0"/><rect x="1373" y="581" width="1" height="64" fill="#C0C0C0"/><rect x="1381" y="584" width="1" height="61" fill="#C0C0C0"/><rect x="1389" y="587" width="1" height="58" fill="#C0C0C0"/><rect x="1397" y="591" width="1" height="54" fill="#C0C0C0"/><rect x="1405" y="593" width="1" height="52" fill="#C0C0C0"/><rect x="1413" y="591" width="1" height="54" fill="#C0C0C0"/><rect x="1421" y="588" width="1" height="57" fill="#C0C0C0"/><rect x="1429" y="580" width="1" height="65" fill="#C0C0C0"/><rect x="1437" y="576" width="1" height="69" fill="#C0C0C0"/><rect x="1445" y="579" width="1" height="66" fill="#C0C0C0"/><rect x="1453" y="579" width="1" height="66" fill="#C0C0C0"/></g><g clip-path="url(#macdclip)"><polyline points="-3.0,609.5 5.0,614.5 13.0,619.8 21.0,625.0 29.0,630.8 37.0,637.0 45.0,643.0 53.0,648.4 61.0,652.9 69.0,656.7 77.0,659.4 85.0,660.4 93.0,660.1 101.0,658.4 109.0,655.8 117.0,652.2 125.0,647.7 133.0,642.1 141.0,636.4 149.0,631.1 157.0,627.1 165.0,624.2 173.0,622.6 181.0,621.8 189.0,621.7 197.0,622.5 205.0,624.2 213.0,625.8 221.0,626.7 229.0,627.5 237.0,628.2 245.0,629.1 253.0,630.3 261.0,632.0 269.0,633.8 277.0,635.4 285.0,637.0 293.0,638.9 301.0,640.6 309.0,642.2 317.0,643.3 325.0,643.8 333.0,644.3 341.0,645.2 349.0,646.4 357.0,648.1 365.0,650.2 373.0,652.7 381.0,655.7 389.0,659.4 397.0,663.9 405.0,668.6 413.0,674.2 421.0,680.6 429.0,687.5 437.0,694.6 445.0,701.9 453.0,708.3 461.0,713.7 469.0,717.9 477.0,721.2 485.0,723.1 493.0,723.6 501.0,723.4 509.0,722.7 517.0,721.6 525.0,720.1 533.0,719.1 541.0,718.3 549.0,717.5 557.0,716.1 565.0,713.1 573.0,708.3 581.0,702.4 589.0,695.7 597.0,688.9 605.0,681.6 613.0,674.6 621.0,667.9 629.0,662.3 637.0,658.6 645.0,656.8 653.0,656.0 661.0,655.7 669.0,655.6 677.0,655.5 685.0,654.8 693.0,653.9 701.0,652.8 709.0,653.1 717.0,655.4 725.0,659.6 733.0,665.3 741.0,672.3 749.0,680.7 757.0,690.4 765.0,701.8 773.0,714.7 781.0,726.8 789.0,736.8 797.0,745.2 805.0,752.2 813.0,757.7 821.0,761.6 829.0,763.7 837.0,763.7 845.0,761.5 853.0,756.7 861.0,749.6 869.0,741.0 877.0,731.1 885.0,721.2 893.0,711.2 901.0,700.2 909.0,688.7 917.0,676.7 925.0,665.7 933.0,656.4 941.0,648.3 949.0,641.0 957.0,633.7 965.0,627.1 973.0,621.8 981.0,617.6 989.0,615.5 997.0,614.8 1005.0,615.1 1013.0,616.0 1021.0,617.6 1029.0,620.0 1037.0,622.9 1045.0,625.7 1053.0,628.0 1061.0,628.9 1069.0,629.2 1077.0,628.9 1085.0,628.8 1093.0,628.4 1101.0,627.5 1109.0,626.5 1117.0,625.7 1125.0,625.2 1133.0,624.6 1141.0,624.1 1149.0,623.7 1157.0,623.7 1165.0,624.6 1173.0,626.0 1181.0,627.9 1189.0,629.4 1197.0,631.4 1205.0,634.1 1213.0,636.9 1221.0,639.5 1229.0,641.2 1237.0,642.1 1245.0,642.1 1253.0,640.7 1261.0,639.1 1269.0,636.8 1277.0,633.3 1285.0,628.7 1293.0,624.0 1301.0,619.5 1309.0,615.5 1317.0,612.1 1325.0,608.8 1333.0,605.2 1341.0,601.4 1349.0,598.0 1357.0,595.2 1365.0,592.7 1373.0,590.2 1381.0,587.7 1389.0,585.7 1397.0,584.6 1405.0,584.7 1413.0,585.3 1421.0,586.0 1429.0,586.2 1437.0,585.6 1445.0,585.3 1453.0,584.8" fill="none" stroke="#FF0000" stroke-width="1" stroke-dasharray="3,3" shape-rendering="crispEdges"/></g><text x="-7" y="577" font-size="11" fill="#000" text-anchor="start" font-weight="normal" font-family='"Liberation Sans", sans-serif' textLength="148" lengthAdjust="spacingAndGlyphs" >MACD(12,26,9) 0.003585 0.003225</text><rect x="1649" y="566" width="2" height="1" fill="#000"/><text x="1652" y="575" font-size="11" fill="#000" text-anchor="start" font-weight="normal" font-family='"Liberation Sans", sans-serif' textLength="37.5" lengthAdjust="spacingAndGlyphs" >0.004177</text><text x="1652" y="649.5" font-size="11" fill="#000" text-anchor="start" font-weight="normal" font-family='"Liberation Sans", sans-serif' textLength="17" lengthAdjust="spacingAndGlyphs" >0.00</text><rect x="1649" y="782" width="2" height="1" fill="#000"/><text x="1652" y="781" font-size="11" fill="#000" text-anchor="start" font-weight="normal" font-family='"Liberation Sans", sans-serif' textLength="40.5" lengthAdjust="spacingAndGlyphs" >-0.007153</text><line x1="0" y1="815.5" x2="1648" y2="815.5" stroke="#C0C0C0" stroke-dasharray="3,3"/><line x1="0" y1="857.5" x2="1648" y2="857.5" stroke="#C0C0C0" stroke-dasharray="3,3"/><line x1="0" y1="906.5" x2="1648" y2="906.5" stroke="#C0C0C0" stroke-dasharray="3,3"/><polyline points="-3.0,866.0 5.0,867.3 13.0,869.0 21.0,869.5 29.0,873.2 37.0,872.2 45.0,874.2 53.0,868.3 61.0,870.2 69.0,872.2 77.0,860.3 85.0,841.0 93.0,837.3 101.0,844.2 109.0,844.5 117.0,840.5 125.0,834.8 133.0,831.3 141.0,848.0 149.0,848.7 157.0,851.4 165.0,850.4 173.0,859.8 181.0,856.4 189.0,850.4 197.0,853.1 205.0,852.4 213.0,849.2 221.0,839.3 229.0,848.4 237.0,852.2 245.0,866.0 253.0,865.3 261.0,866.5 269.0,858.3 277.0,859.6 285.0,855.9 293.0,850.9 301.0,850.4 309.0,856.6 317.0,861.1 325.0,854.6 333.0,872.2 341.0,869.0 349.0,867.3 357.0,867.3 365.0,869.5 373.0,866.5 381.0,879.2 389.0,882.6 397.0,885.1 405.0,888.8 413.0,895.0 421.0,896.6 429.0,897.5 437.0,893.3 445.0,893.3 453.0,889.6 461.0,883.1 469.0,883.9 477.0,887.6 485.0,886.3 493.0,888.1 501.0,890.1 509.0,893.3 517.0,890.1 525.0,873.5 533.0,886.3 541.0,887.1 549.0,873.2 557.0,867.8 565.0,848.0 573.0,842.5 581.0,849.2 589.0,850.4 597.0,849.2 605.0,852.9 613.0,864.0 621.0,862.3 629.0,868.3 637.0,865.3 645.0,863.6 653.0,860.8 661.0,858.3 669.0,850.9 677.0,853.4 685.0,854.1 693.0,853.4 701.0,862.8 709.0,882.6 717.0,892.0 725.0,890.6 733.0,889.6 741.0,888.3 749.0,892.0 757.0,896.3 765.0,900.5 773.0,902.9 781.0,899.5 789.0,888.3 797.0,890.1 805.0,887.1 813.0,880.2 821.0,879.7 829.0,880.2 837.0,882.8 845.0,880.2 853.0,855.4 861.0,848.4 869.0,852.4 877.0,849.7 885.0,857.9 893.0,852.4 901.0,843.5 909.0,844.5 917.0,842.5 925.0,843.5 933.0,847.2 941.0,844.2 949.0,842.5 957.0,838.5 965.0,843.5 973.0,842.5 981.0,847.0 989.0,862.3 997.0,860.3 1005.0,861.6 1013.0,854.6 1021.0,853.4 1029.0,856.6 1037.0,856.6 1045.0,851.7 1053.0,842.5 1061.0,848.4 1069.0,847.2 1077.0,850.9 1085.0,857.4 1093.0,847.4 1101.0,846.2 1109.0,849.2 1117.0,851.2 1125.0,845.5 1133.0,841.5 1141.0,849.2 1149.0,851.2 1157.0,864.0 1165.0,862.1 1173.0,860.3 1181.0,864.0 1189.0,850.4 1197.0,857.9 1205.0,860.8 1213.0,866.0 1221.0,854.6 1229.0,852.4 1237.0,852.4 1245.0,845.0 1253.0,841.7 1261.0,839.3 1269.0,839.3 1277.0,831.8 1285.0,828.1 1293.0,841.7 1301.0,845.5 1309.0,847.4 1317.0,843.5 1325.0,835.1 1333.0,829.4 1341.0,828.1 1349.0,831.3 1357.0,829.4 1365.0,840.5 1373.0,837.5 1381.0,841.7 1389.0,845.5 1397.0,844.2 1405.0,843.5 1413.0,835.6 1421.0,831.8 1429.0,824.4 1437.0,830.6 1445.0,836.8 1453.0,836.8" fill="none" stroke="#1E90FF" stroke-width="1" shape-rendering="crispEdges"/><text x="-7" y="798" font-size="11" fill="#000" text-anchor="start" font-weight="normal" font-family='"Liberation Sans", sans-serif' textLength="68" lengthAdjust="spacingAndGlyphs" >RSI(14) 64.3560</text><text x="1652" y="796.5" font-size="11" fill="#000" text-anchor="start" font-weight="normal" font-family='"Liberation Sans", sans-serif' textLength="16.799999999999997" lengthAdjust="spacingAndGlyphs" >100</text><text x="1652" y="819.5" font-size="11" fill="#000" text-anchor="start" font-weight="normal" font-family='"Liberation Sans", sans-serif' textLength="11.2" lengthAdjust="spacingAndGlyphs" >80</text><text x="1652" y="861.5" font-size="11" fill="#000" text-anchor="start" font-weight="normal" font-family='"Liberation Sans", sans-serif' textLength="11.2" lengthAdjust="spacingAndGlyphs" >50</text><text x="1652" y="910.5" font-size="11" fill="#000" text-anchor="start" font-weight="normal" font-family='"Liberation Sans", sans-serif' textLength="11.2" lengthAdjust="spacingAndGlyphs" >15</text><text x="1652" y="925.5" font-size="11" fill="#000" text-anchor="start" font-weight="normal" font-family='"Liberation Sans", sans-serif' textLength="5.6" lengthAdjust="spacingAndGlyphs" >0</text><rect x="1649" y="787" width="2" height="1" fill="#000"/><rect x="1649" y="927" width="2" height="1" fill="#000"/><rect x="53" y="929" width="1" height="3" fill="#000"/><text x="52" y="941" font-size="11" fill="#000" text-anchor="start" font-weight="normal" font-family='"Liberation Sans", sans-serif' textLength="50.0" lengthAdjust="spacingAndGlyphs" >8 Sep 16:00</text><rect x="117" y="929" width="1" height="3" fill="#000"/><text x="116" y="941" font-size="11" fill="#000" text-anchor="start" font-weight="normal" font-family='"Liberation Sans", sans-serif' textLength="54.6" lengthAdjust="spacingAndGlyphs" >10 Sep 00:00</text><rect x="181" y="929" width="1" height="3" fill="#000"/><text x="180" y="941" font-size="11" fill="#000" text-anchor="start" font-weight="normal" font-family='"Liberation Sans", sans-serif' textLength="54.6" lengthAdjust="spacingAndGlyphs" >13 Sep 08:00</text><rect x="245" y="929" width="1" height="3" fill="#000"/><text x="244" y="941" font-size="11" fill="#000" text-anchor="start" font-weight="normal" font-family='"Liberation Sans", sans-serif' textLength="54.6" lengthAdjust="spacingAndGlyphs" >14 Sep 16:00</text><rect x="309" y="929" width="1" height="3" fill="#000"/><text x="308" y="941" font-size="11" fill="#000" text-anchor="start" font-weight="normal" font-family='"Liberation Sans", sans-serif' textLength="54.6" lengthAdjust="spacingAndGlyphs" >16 Sep 00:00</text><rect x="373" y="929" width="1" height="3" fill="#000"/><text x="372" y="941" font-size="11" fill="#000" text-anchor="start" font-weight="normal" font-family='"Liberation Sans", sans-serif' textLength="54.6" lengthAdjust="spacingAndGlyphs" >17 Sep 08:00</text><rect x="437" y="929" width="1" height="3" fill="#000"/><text x="436" y="941" font-size="11" fill="#000" text-anchor="start" font-weight="normal" font-family='"Liberation Sans", sans-serif' textLength="54.6" lengthAdjust="spacingAndGlyphs" >20 Sep 16:00</text><rect x="501" y="929" width="1" height="3" fill="#000"/><text x="500" y="941" font-size="11" fill="#000" text-anchor="start" font-weight="normal" font-family='"Liberation Sans", sans-serif' textLength="54.6" lengthAdjust="spacingAndGlyphs" >22 Sep 00:00</text><rect x="565" y="929" width="1" height="3" fill="#000"/><text x="564" y="941" font-size="11" fill="#000" text-anchor="start" font-weight="normal" font-family='"Liberation Sans", sans-serif' textLength="54.6" lengthAdjust="spacingAndGlyphs" >23 Sep 08:00</text><rect x="629" y="929" width="1" height="3" fill="#000"/><text x="628" y="941" font-size="11" fill="#000" text-anchor="start" font-weight="normal" font-family='"Liberation Sans", sans-serif' textLength="54.6" lengthAdjust="spacingAndGlyphs" >24 Sep 16:00</text><rect x="693" y="929" width="1" height="3" fill="#000"/><text x="692" y="941" font-size="11" fill="#000" text-anchor="start" font-weight="normal" font-family='"Liberation Sans", sans-serif' textLength="54.6" lengthAdjust="spacingAndGlyphs" >28 Sep 00:00</text><rect x="757" y="929" width="1" height="3" fill="#000"/><text x="756" y="941" font-size="11" fill="#000" text-anchor="start" font-weight="normal" font-family='"Liberation Sans", sans-serif' textLength="54.6" lengthAdjust="spacingAndGlyphs" >29 Sep 08:00</text><rect x="821" y="929" width="1" height="3" fill="#000"/><text x="820" y="941" font-size="11" fill="#000" text-anchor="start" font-weight="normal" font-family='"Liberation Sans", sans-serif' textLength="54.6" lengthAdjust="spacingAndGlyphs" >30 Sep 16:00</text><rect x="885" y="929" width="1" height="3" fill="#000"/><text x="884" y="941" font-size="11" fill="#000" text-anchor="start" font-weight="normal" font-family='"Liberation Sans", sans-serif' textLength="50.0" lengthAdjust="spacingAndGlyphs" >4 Oct 00:00</text><rect x="949" y="929" width="1" height="3" fill="#000"/><text x="948" y="941" font-size="11" fill="#000" text-anchor="start" font-weight="normal" font-family='"Liberation Sans", sans-serif' textLength="50.0" lengthAdjust="spacingAndGlyphs" >5 Oct 08:00</text><rect x="1013" y="929" width="1" height="3" fill="#000"/><text x="1012" y="941" font-size="11" fill="#000" text-anchor="start" font-weight="normal" font-family='"Liberation Sans", sans-serif' textLength="50.0" lengthAdjust="spacingAndGlyphs" >6 Oct 16:00</text><rect x="1077" y="929" width="1" height="3" fill="#000"/><text x="1076" y="941" font-size="11" fill="#000" text-anchor="start" font-weight="normal" font-family='"Liberation Sans", sans-serif' textLength="50.0" lengthAdjust="spacingAndGlyphs" >8 Oct 00:00</text><rect x="1141" y="929" width="1" height="3" fill="#000"/><text x="1140" y="941" font-size="11" fill="#000" text-anchor="start" font-weight="normal" font-family='"Liberation Sans", sans-serif' textLength="54.6" lengthAdjust="spacingAndGlyphs" >11 Oct 08:00</text><rect x="1205" y="929" width="1" height="3" fill="#000"/><text x="1204" y="941" font-size="11" fill="#000" text-anchor="start" font-weight="normal" font-family='"Liberation Sans", sans-serif' textLength="54.6" lengthAdjust="spacingAndGlyphs" >12 Oct 16:00</text><rect x="1269" y="929" width="1" height="3" fill="#000"/><text x="1268" y="941" font-size="11" fill="#000" text-anchor="start" font-weight="normal" font-family='"Liberation Sans", sans-serif' textLength="54.6" lengthAdjust="spacingAndGlyphs" >14 Oct 00:00</text><rect x="1333" y="929" width="1" height="3" fill="#000"/><text x="1332" y="941" font-size="11" fill="#000" text-anchor="start" font-weight="normal" font-family='"Liberation Sans", sans-serif' textLength="54.6" lengthAdjust="spacingAndGlyphs" >15 Oct 08:00</text><rect x="1397" y="929" width="1" height="3" fill="#000"/><text x="1396" y="941" font-size="11" fill="#000" text-anchor="start" font-weight="normal" font-family='"Liberation Sans", sans-serif' textLength="54.6" lengthAdjust="spacingAndGlyphs" >18 Oct 16:00</text><text x="-10" y="941" font-size="11" fill="#000" text-anchor="start" font-weight="normal" font-family='"Liberation Sans", sans-serif' textLength="45" lengthAdjust="spacingAndGlyphs" >7 Sep 2021</text><rect x="1423" y="132" width="7" height="1" fill="#FF0000"/><rect x="1420.5" y="130.5" width="2" height="3" fill="#fff" stroke="#FF0000"/><rect x="1358.5" y="123.5" width="61" height="18" fill="#fff" stroke="#FF0000"/><text x="1360.5" y="139" font-size="16" fill="#FF0000" text-anchor="start" font-weight="normal" font-family='"Liberation Sans", sans-serif' textLength="60" lengthAdjust="spacingAndGlyphs" >1.38328</text><rect x="1190" y="188" width="8" height="1" fill="#FF0000"/><rect x="1197.5" y="186.5" width="2" height="3" fill="#fff" stroke="#FF0000"/><rect x="1200.5" y="176.5" width="73" height="24" fill="#fff" stroke="#FF0000"/><text x="1202" y="198" font-size="23.5" fill="#FF0000" text-anchor="start" font-weight="normal" font-family='"Liberation Sans", sans-serif' textLength="72" lengthAdjust="spacingAndGlyphs" >1.37762</text><rect x="988" y="420" width="10" height="1" fill="#FF0000"/><rect x="926.5" y="411.5" width="61" height="18" fill="#fff" stroke="#FF0000"/><text x="928.5" y="427.3" font-size="16" fill="#FF0000" text-anchor="start" font-weight="normal" font-family='"Liberation Sans", sans-serif' textLength="60" lengthAdjust="spacingAndGlyphs" >1.35418</text><rect x="764" y="548" width="10" height="1" fill="#FF0000"/><rect x="702.5" y="539.5" width="61" height="18" fill="#fff" stroke="#FF0000"/><text x="704.5" y="555.3" font-size="16" fill="#FF0000" text-anchor="start" font-weight="normal" font-family='"Liberation Sans", sans-serif' textLength="60" lengthAdjust="spacingAndGlyphs" >1.34117</text><rect x="1372" y="184" width="119" height="8" fill="#00FF00"/><line x1="1212.6" y1="374.6" x2="1285.9" y2="237.7" stroke="#FF0000" stroke-width="3.1" stroke-linecap="round"/><line x1="1286.0" y1="237.5" x2="1277.9" y2="243.1" stroke="#FF0000" stroke-width="3.1" stroke-linecap="round"/><line x1="1286.0" y1="237.5" x2="1285.8" y2="247.4" stroke="#FF0000" stroke-width="3.1" stroke-linecap="round"/><path d="M1286.6 236.4 L1286.4 243.8 L1280.6 240.7 Z" fill="#FF0000"/><line x1="1286.6" y1="236.4" x2="1310.0" y2="291.0" stroke="#FF0000" stroke-width="3.1" stroke-linecap="round"/><line x1="1310.1" y1="291.3" x2="1310.8" y2="281.4" stroke="#FF0000" stroke-width="3.1" stroke-linecap="round"/><line x1="1310.1" y1="291.3" x2="1302.5" y2="284.9" stroke="#FF0000" stroke-width="3.1" stroke-linecap="round"/><path d="M1310.6 292.4 L1305.0 287.6 L1311.0 285.0 Z" fill="#FF0000"/><line x1="1317.8" y1="297.0" x2="1343.9" y2="191.0" stroke="#FF0000" stroke-width="3.1" stroke-linecap="round"/><line x1="1344.0" y1="190.7" x2="1337.6" y2="198.2" stroke="#FF0000" stroke-width="3.1" stroke-linecap="round"/><line x1="1344.0" y1="190.7" x2="1346.2" y2="200.3" stroke="#FF0000" stroke-width="3.1" stroke-linecap="round"/><path d="M1344.3 189.5 L1345.9 196.7 L1339.5 195.1 Z" fill="#FF0000"/><line x1="1351.0" y1="192.7" x2="1396.3" y2="247.2" stroke="#FF0000" stroke-width="3.1" stroke-linecap="round"/><line x1="1396.5" y1="247.5" x2="1394.3" y2="237.8" stroke="#FF0000" stroke-width="3.1" stroke-linecap="round"/><line x1="1396.5" y1="247.5" x2="1387.4" y2="243.5" stroke="#FF0000" stroke-width="3.1" stroke-linecap="round"/><path d="M1397.3 248.4 L1390.5 245.4 L1395.6 241.2 Z" fill="#FF0000"/><line x1="1397.3" y1="248.4" x2="1436.8" y2="135.3" stroke="#FF0000" stroke-width="3.1" stroke-linecap="round"/><line x1="1436.9" y1="135.0" x2="1429.8" y2="141.9" stroke="#FF0000" stroke-width="3.1" stroke-linecap="round"/><line x1="1436.9" y1="135.0" x2="1438.2" y2="144.9" stroke="#FF0000" stroke-width="3.1" stroke-linecap="round"/><path d="M1437.3 133.9 L1438.2 141.2 L1432.0 139.0 Z" fill="#FF0000"/><line x1="1437.3" y1="134.0" x2="1453.3" y2="184.9" stroke="#FF0000" stroke-width="3.1" stroke-linecap="round"/><line x1="1453.3" y1="185.2" x2="1455.0" y2="175.4" stroke="#FF0000" stroke-width="3.1" stroke-linecap="round"/><line x1="1453.3" y1="185.2" x2="1446.4" y2="178.1" stroke="#FF0000" stroke-width="3.1" stroke-linecap="round"/><path d="M1453.7 186.3 L1448.6 181.0 L1454.9 179.0 Z" fill="#FF0000"/><line x1="1453.7" y1="186.3" x2="1479.7" y2="164.3" stroke="#FF0000" stroke-width="3.1" stroke-linecap="round"/><line x1="1479.9" y1="164.1" x2="1470.2" y2="166.4" stroke="#FF0000" stroke-width="3.1" stroke-linecap="round"/><line x1="1479.9" y1="164.1" x2="1476.0" y2="173.2" stroke="#FF0000" stroke-width="3.1" stroke-linecap="round"/><path d="M1480.8 163.3 L1477.9 170.1 L1473.6 165.1 Z" fill="#FF0000"/><line x1="1352.7" y1="589.5" x2="1454.3" y2="581.4" stroke="#FF0000" stroke-width="3.2" stroke-linecap="round"/><line x1="1454.6" y1="581.4" x2="1446.3" y2="578.3" stroke="#FF0000" stroke-width="3.2" stroke-linecap="round"/><line x1="1454.6" y1="581.4" x2="1446.9" y2="585.8" stroke="#FF0000" stroke-width="3.2" stroke-linecap="round"/><path d="M1455.8 581.3 L1450.1 584.8 L1449.6 578.8 Z" fill="#FF0000"/><line x1="1364.5" y1="841.7" x2="1463.3" y2="831.9" stroke="#FF0000" stroke-width="3.2" stroke-linecap="round"/><line x1="1463.6" y1="831.9" x2="1455.2" y2="829.0" stroke="#FF0000" stroke-width="3.2" stroke-linecap="round"/><line x1="1463.6" y1="831.9" x2="1455.9" y2="836.4" stroke="#FF0000" stroke-width="3.2" stroke-linecap="round"/><path d="M1464.8 831.8 L1459.1 835.4 L1458.5 829.4 Z" fill="#FF0000"/><defs>
<linearGradient id="gTop" x1="0" y1="0" x2="0" y2="1"><stop offset="0" stop-color="#F85858"/><stop offset="1" stop-color="#E02A2A"/></linearGradient>
<linearGradient id="gBot" x1="0" y1="0" x2="0" y2="1"><stop offset="0" stop-color="#D82222"/><stop offset="1" stop-color="#B00000"/></linearGradient>
<linearGradient id="gBtn" x1="0" y1="0" x2="0" y2="1"><stop offset="0" stop-color="#F2F2F2"/><stop offset="0.45" stop-color="#E6E6E6"/><stop offset="0.5" stop-color="#D8D8D8"/><stop offset="1" stop-color="#D0D0D0"/></linearGradient>
</defs><rect x="-1" y="47" width="45" height="24" fill="url(#gTop)" stroke="#B80000"/><rect x="0" y="70" width="40" height="1" fill="#900000"/><rect x="0" y="71" width="40" height="1" fill="#F07070"/><text x="4.3" y="63" font-size="12" fill="#fff" text-anchor="start" font-weight="normal" font-family='"Liberation Sans", sans-serif' textLength="25.6" lengthAdjust="spacingAndGlyphs" >SELL</text><rect x="-1" y="71.5" width="101.5" height="32" fill="url(#gBot)" stroke="#A00000"/><rect x="0" y="71" width="43" height="1" fill="#E03030"/><rect x="159.5" y="47.5" width="51" height="24" fill="url(#gTop)" stroke="#B80000"/><rect x="163" y="70" width="44" height="1" fill="#900000"/><rect x="163" y="71" width="44" height="1" fill="#F07070"/><text x="172.9" y="63" font-size="12" fill="#fff" text-anchor="start" font-weight="normal" font-family='"Liberation Sans", sans-serif' textLength="22.8" lengthAdjust="spacingAndGlyphs" >BUY</text><rect x="103.5" y="71.5" width="107" height="32" fill="url(#gBot)" stroke="#A00000"/><rect x="160" y="71" width="50" height="1" fill="#E03030"/><rect x="46.5" y="47.5" width="110" height="21" fill="#fff" stroke="#A8ACB4"/><rect x="47.5" y="48.5" width="19" height="19" fill="url(#gBtn)" stroke="#B8BCC4"/><rect x="136.5" y="48.5" width="19" height="19" fill="url(#gBtn)" stroke="#B8BCC4"/><path d="M54 56.5h5l-2.5 2.5z" fill="#4060C0"/><path d="M143.5 59h5l-2.5-2.5z" fill="#4060C0"/><text x="108.8" y="62" font-size="12" fill="#000" text-anchor="start" font-weight="normal" font-family='"Liberation Sans", sans-serif' textLength="23" lengthAdjust="spacingAndGlyphs" >1.00</text><text x="12.5" y="99" font-size="12" fill="#fff" text-anchor="start" font-weight="bold" font-family='"Liberation Sans", sans-serif' textLength="23" lengthAdjust="spacingAndGlyphs" >1.37</text><text x="39.5" y="99" font-size="33" fill="#fff" text-anchor="start" font-weight="normal" font-family='"Liberation Sans", sans-serif' textLength="34" lengthAdjust="spacingAndGlyphs" >91</text><text x="78.9" y="83" font-size="12" fill="#fff" text-anchor="start" font-weight="bold" font-family='"Liberation Sans", sans-serif' >9</text><text x="122.4" y="99" font-size="12" fill="#fff" text-anchor="start" font-weight="bold" font-family='"Liberation Sans", sans-serif' textLength="23" lengthAdjust="spacingAndGlyphs" >1.38</text><text x="150.5" y="99" font-size="33" fill="#fff" text-anchor="start" font-weight="normal" font-family='"Liberation Sans", sans-serif' textLength="34" lengthAdjust="spacingAndGlyphs" >01</text><text x="190.2" y="83" font-size="12" fill="#fff" text-anchor="start" font-weight="bold" font-family='"Liberation Sans", sans-serif' >1</text></svg></body></html>
